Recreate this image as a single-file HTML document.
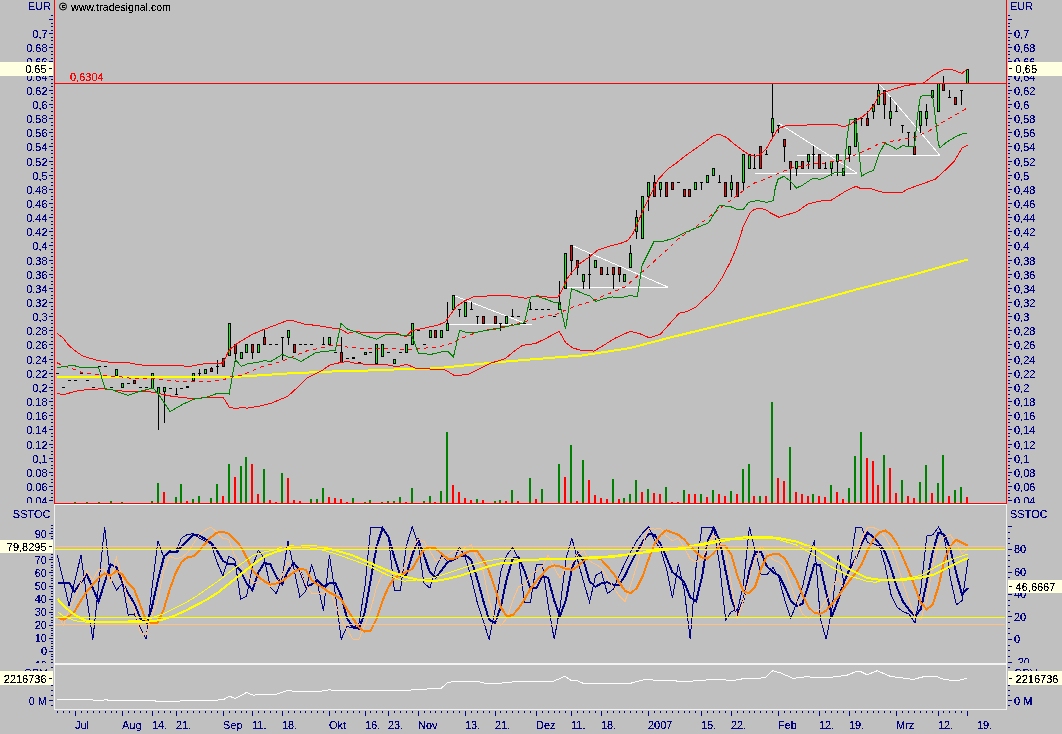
<!DOCTYPE html>
<html><head><meta charset="utf-8"><title>Chart</title>
<style>html,body{margin:0;padding:0;background:#C0C0C0;}body{width:1062px;height:734px;overflow:hidden;font-family:"Liberation Sans",sans-serif;}svg{display:block}</style>
</head><body>
<svg width="1062" height="734" viewBox="0 0 1062 734" shape-rendering="crispEdges" font-family="Liberation Sans, sans-serif">
<rect x="0" y="0" width="1062" height="734" fill="#C0C0C0"/>
<rect x="51" y="15" width="2" height="1" fill="#000080"/>
<rect x="1008" y="15" width="2" height="1" fill="#000080"/>
<rect x="49" y="19" width="4" height="1" fill="#000080"/>
<rect x="1008" y="19" width="4" height="1" fill="#000080"/>
<rect x="51" y="23" width="2" height="1" fill="#000080"/>
<rect x="1008" y="23" width="2" height="1" fill="#000080"/>
<rect x="51" y="26" width="2" height="1" fill="#000080"/>
<rect x="1008" y="26" width="2" height="1" fill="#000080"/>
<rect x="51" y="30" width="2" height="1" fill="#000080"/>
<rect x="1008" y="30" width="2" height="1" fill="#000080"/>
<rect x="49" y="33" width="4" height="1" fill="#000080"/>
<rect x="1008" y="33" width="4" height="1" fill="#000080"/>
<rect x="51" y="37" width="2" height="1" fill="#000080"/>
<rect x="1008" y="37" width="2" height="1" fill="#000080"/>
<rect x="51" y="40" width="2" height="1" fill="#000080"/>
<rect x="1008" y="40" width="2" height="1" fill="#000080"/>
<rect x="51" y="44" width="2" height="1" fill="#000080"/>
<rect x="1008" y="44" width="2" height="1" fill="#000080"/>
<rect x="49" y="47" width="4" height="1" fill="#000080"/>
<rect x="1008" y="47" width="4" height="1" fill="#000080"/>
<rect x="51" y="51" width="2" height="1" fill="#000080"/>
<rect x="1008" y="51" width="2" height="1" fill="#000080"/>
<rect x="51" y="54" width="2" height="1" fill="#000080"/>
<rect x="1008" y="54" width="2" height="1" fill="#000080"/>
<rect x="51" y="58" width="2" height="1" fill="#000080"/>
<rect x="1008" y="58" width="2" height="1" fill="#000080"/>
<rect x="49" y="61" width="4" height="1" fill="#000080"/>
<rect x="1008" y="61" width="4" height="1" fill="#000080"/>
<rect x="51" y="65" width="2" height="1" fill="#000080"/>
<rect x="1008" y="65" width="2" height="1" fill="#000080"/>
<rect x="51" y="69" width="2" height="1" fill="#000080"/>
<rect x="1008" y="69" width="2" height="1" fill="#000080"/>
<rect x="51" y="72" width="2" height="1" fill="#000080"/>
<rect x="1008" y="72" width="2" height="1" fill="#000080"/>
<rect x="49" y="76" width="4" height="1" fill="#000080"/>
<rect x="1008" y="76" width="4" height="1" fill="#000080"/>
<rect x="51" y="79" width="2" height="1" fill="#000080"/>
<rect x="1008" y="79" width="2" height="1" fill="#000080"/>
<rect x="51" y="83" width="2" height="1" fill="#000080"/>
<rect x="1008" y="83" width="2" height="1" fill="#000080"/>
<rect x="51" y="86" width="2" height="1" fill="#000080"/>
<rect x="1008" y="86" width="2" height="1" fill="#000080"/>
<rect x="49" y="90" width="4" height="1" fill="#000080"/>
<rect x="1008" y="90" width="4" height="1" fill="#000080"/>
<rect x="51" y="93" width="2" height="1" fill="#000080"/>
<rect x="1008" y="93" width="2" height="1" fill="#000080"/>
<rect x="51" y="97" width="2" height="1" fill="#000080"/>
<rect x="1008" y="97" width="2" height="1" fill="#000080"/>
<rect x="51" y="100" width="2" height="1" fill="#000080"/>
<rect x="1008" y="100" width="2" height="1" fill="#000080"/>
<rect x="49" y="104" width="4" height="1" fill="#000080"/>
<rect x="1008" y="104" width="4" height="1" fill="#000080"/>
<rect x="51" y="107" width="2" height="1" fill="#000080"/>
<rect x="1008" y="107" width="2" height="1" fill="#000080"/>
<rect x="51" y="111" width="2" height="1" fill="#000080"/>
<rect x="1008" y="111" width="2" height="1" fill="#000080"/>
<rect x="51" y="115" width="2" height="1" fill="#000080"/>
<rect x="1008" y="115" width="2" height="1" fill="#000080"/>
<rect x="49" y="118" width="4" height="1" fill="#000080"/>
<rect x="1008" y="118" width="4" height="1" fill="#000080"/>
<rect x="51" y="122" width="2" height="1" fill="#000080"/>
<rect x="1008" y="122" width="2" height="1" fill="#000080"/>
<rect x="51" y="125" width="2" height="1" fill="#000080"/>
<rect x="1008" y="125" width="2" height="1" fill="#000080"/>
<rect x="51" y="129" width="2" height="1" fill="#000080"/>
<rect x="1008" y="129" width="2" height="1" fill="#000080"/>
<rect x="49" y="132" width="4" height="1" fill="#000080"/>
<rect x="1008" y="132" width="4" height="1" fill="#000080"/>
<rect x="51" y="136" width="2" height="1" fill="#000080"/>
<rect x="1008" y="136" width="2" height="1" fill="#000080"/>
<rect x="51" y="139" width="2" height="1" fill="#000080"/>
<rect x="1008" y="139" width="2" height="1" fill="#000080"/>
<rect x="51" y="143" width="2" height="1" fill="#000080"/>
<rect x="1008" y="143" width="2" height="1" fill="#000080"/>
<rect x="49" y="146" width="4" height="1" fill="#000080"/>
<rect x="1008" y="146" width="4" height="1" fill="#000080"/>
<rect x="51" y="150" width="2" height="1" fill="#000080"/>
<rect x="1008" y="150" width="2" height="1" fill="#000080"/>
<rect x="51" y="153" width="2" height="1" fill="#000080"/>
<rect x="1008" y="153" width="2" height="1" fill="#000080"/>
<rect x="51" y="157" width="2" height="1" fill="#000080"/>
<rect x="1008" y="157" width="2" height="1" fill="#000080"/>
<rect x="49" y="161" width="4" height="1" fill="#000080"/>
<rect x="1008" y="161" width="4" height="1" fill="#000080"/>
<rect x="51" y="164" width="2" height="1" fill="#000080"/>
<rect x="1008" y="164" width="2" height="1" fill="#000080"/>
<rect x="51" y="168" width="2" height="1" fill="#000080"/>
<rect x="1008" y="168" width="2" height="1" fill="#000080"/>
<rect x="51" y="171" width="2" height="1" fill="#000080"/>
<rect x="1008" y="171" width="2" height="1" fill="#000080"/>
<rect x="49" y="175" width="4" height="1" fill="#000080"/>
<rect x="1008" y="175" width="4" height="1" fill="#000080"/>
<rect x="51" y="178" width="2" height="1" fill="#000080"/>
<rect x="1008" y="178" width="2" height="1" fill="#000080"/>
<rect x="51" y="182" width="2" height="1" fill="#000080"/>
<rect x="1008" y="182" width="2" height="1" fill="#000080"/>
<rect x="51" y="185" width="2" height="1" fill="#000080"/>
<rect x="1008" y="185" width="2" height="1" fill="#000080"/>
<rect x="49" y="189" width="4" height="1" fill="#000080"/>
<rect x="1008" y="189" width="4" height="1" fill="#000080"/>
<rect x="51" y="192" width="2" height="1" fill="#000080"/>
<rect x="1008" y="192" width="2" height="1" fill="#000080"/>
<rect x="51" y="196" width="2" height="1" fill="#000080"/>
<rect x="1008" y="196" width="2" height="1" fill="#000080"/>
<rect x="51" y="199" width="2" height="1" fill="#000080"/>
<rect x="1008" y="199" width="2" height="1" fill="#000080"/>
<rect x="49" y="203" width="4" height="1" fill="#000080"/>
<rect x="1008" y="203" width="4" height="1" fill="#000080"/>
<rect x="51" y="207" width="2" height="1" fill="#000080"/>
<rect x="1008" y="207" width="2" height="1" fill="#000080"/>
<rect x="51" y="210" width="2" height="1" fill="#000080"/>
<rect x="1008" y="210" width="2" height="1" fill="#000080"/>
<rect x="51" y="214" width="2" height="1" fill="#000080"/>
<rect x="1008" y="214" width="2" height="1" fill="#000080"/>
<rect x="49" y="217" width="4" height="1" fill="#000080"/>
<rect x="1008" y="217" width="4" height="1" fill="#000080"/>
<rect x="51" y="221" width="2" height="1" fill="#000080"/>
<rect x="1008" y="221" width="2" height="1" fill="#000080"/>
<rect x="51" y="224" width="2" height="1" fill="#000080"/>
<rect x="1008" y="224" width="2" height="1" fill="#000080"/>
<rect x="51" y="228" width="2" height="1" fill="#000080"/>
<rect x="1008" y="228" width="2" height="1" fill="#000080"/>
<rect x="49" y="231" width="4" height="1" fill="#000080"/>
<rect x="1008" y="231" width="4" height="1" fill="#000080"/>
<rect x="51" y="235" width="2" height="1" fill="#000080"/>
<rect x="1008" y="235" width="2" height="1" fill="#000080"/>
<rect x="51" y="238" width="2" height="1" fill="#000080"/>
<rect x="1008" y="238" width="2" height="1" fill="#000080"/>
<rect x="51" y="242" width="2" height="1" fill="#000080"/>
<rect x="1008" y="242" width="2" height="1" fill="#000080"/>
<rect x="49" y="245" width="4" height="1" fill="#000080"/>
<rect x="1008" y="245" width="4" height="1" fill="#000080"/>
<rect x="51" y="249" width="2" height="1" fill="#000080"/>
<rect x="1008" y="249" width="2" height="1" fill="#000080"/>
<rect x="51" y="252" width="2" height="1" fill="#000080"/>
<rect x="1008" y="252" width="2" height="1" fill="#000080"/>
<rect x="51" y="256" width="2" height="1" fill="#000080"/>
<rect x="1008" y="256" width="2" height="1" fill="#000080"/>
<rect x="49" y="260" width="4" height="1" fill="#000080"/>
<rect x="1008" y="260" width="4" height="1" fill="#000080"/>
<rect x="51" y="263" width="2" height="1" fill="#000080"/>
<rect x="1008" y="263" width="2" height="1" fill="#000080"/>
<rect x="51" y="267" width="2" height="1" fill="#000080"/>
<rect x="1008" y="267" width="2" height="1" fill="#000080"/>
<rect x="51" y="270" width="2" height="1" fill="#000080"/>
<rect x="1008" y="270" width="2" height="1" fill="#000080"/>
<rect x="49" y="274" width="4" height="1" fill="#000080"/>
<rect x="1008" y="274" width="4" height="1" fill="#000080"/>
<rect x="51" y="277" width="2" height="1" fill="#000080"/>
<rect x="1008" y="277" width="2" height="1" fill="#000080"/>
<rect x="51" y="281" width="2" height="1" fill="#000080"/>
<rect x="1008" y="281" width="2" height="1" fill="#000080"/>
<rect x="51" y="284" width="2" height="1" fill="#000080"/>
<rect x="1008" y="284" width="2" height="1" fill="#000080"/>
<rect x="49" y="288" width="4" height="1" fill="#000080"/>
<rect x="1008" y="288" width="4" height="1" fill="#000080"/>
<rect x="51" y="291" width="2" height="1" fill="#000080"/>
<rect x="1008" y="291" width="2" height="1" fill="#000080"/>
<rect x="51" y="295" width="2" height="1" fill="#000080"/>
<rect x="1008" y="295" width="2" height="1" fill="#000080"/>
<rect x="51" y="298" width="2" height="1" fill="#000080"/>
<rect x="1008" y="298" width="2" height="1" fill="#000080"/>
<rect x="49" y="302" width="4" height="1" fill="#000080"/>
<rect x="1008" y="302" width="4" height="1" fill="#000080"/>
<rect x="51" y="306" width="2" height="1" fill="#000080"/>
<rect x="1008" y="306" width="2" height="1" fill="#000080"/>
<rect x="51" y="309" width="2" height="1" fill="#000080"/>
<rect x="1008" y="309" width="2" height="1" fill="#000080"/>
<rect x="51" y="313" width="2" height="1" fill="#000080"/>
<rect x="1008" y="313" width="2" height="1" fill="#000080"/>
<rect x="49" y="316" width="4" height="1" fill="#000080"/>
<rect x="1008" y="316" width="4" height="1" fill="#000080"/>
<rect x="51" y="320" width="2" height="1" fill="#000080"/>
<rect x="1008" y="320" width="2" height="1" fill="#000080"/>
<rect x="51" y="323" width="2" height="1" fill="#000080"/>
<rect x="1008" y="323" width="2" height="1" fill="#000080"/>
<rect x="51" y="327" width="2" height="1" fill="#000080"/>
<rect x="1008" y="327" width="2" height="1" fill="#000080"/>
<rect x="49" y="330" width="4" height="1" fill="#000080"/>
<rect x="1008" y="330" width="4" height="1" fill="#000080"/>
<rect x="51" y="334" width="2" height="1" fill="#000080"/>
<rect x="1008" y="334" width="2" height="1" fill="#000080"/>
<rect x="51" y="337" width="2" height="1" fill="#000080"/>
<rect x="1008" y="337" width="2" height="1" fill="#000080"/>
<rect x="51" y="341" width="2" height="1" fill="#000080"/>
<rect x="1008" y="341" width="2" height="1" fill="#000080"/>
<rect x="49" y="344" width="4" height="1" fill="#000080"/>
<rect x="1008" y="344" width="4" height="1" fill="#000080"/>
<rect x="51" y="348" width="2" height="1" fill="#000080"/>
<rect x="1008" y="348" width="2" height="1" fill="#000080"/>
<rect x="51" y="352" width="2" height="1" fill="#000080"/>
<rect x="1008" y="352" width="2" height="1" fill="#000080"/>
<rect x="51" y="355" width="2" height="1" fill="#000080"/>
<rect x="1008" y="355" width="2" height="1" fill="#000080"/>
<rect x="49" y="359" width="4" height="1" fill="#000080"/>
<rect x="1008" y="359" width="4" height="1" fill="#000080"/>
<rect x="51" y="362" width="2" height="1" fill="#000080"/>
<rect x="1008" y="362" width="2" height="1" fill="#000080"/>
<rect x="51" y="366" width="2" height="1" fill="#000080"/>
<rect x="1008" y="366" width="2" height="1" fill="#000080"/>
<rect x="51" y="369" width="2" height="1" fill="#000080"/>
<rect x="1008" y="369" width="2" height="1" fill="#000080"/>
<rect x="49" y="373" width="4" height="1" fill="#000080"/>
<rect x="1008" y="373" width="4" height="1" fill="#000080"/>
<rect x="51" y="376" width="2" height="1" fill="#000080"/>
<rect x="1008" y="376" width="2" height="1" fill="#000080"/>
<rect x="51" y="380" width="2" height="1" fill="#000080"/>
<rect x="1008" y="380" width="2" height="1" fill="#000080"/>
<rect x="51" y="383" width="2" height="1" fill="#000080"/>
<rect x="1008" y="383" width="2" height="1" fill="#000080"/>
<rect x="49" y="387" width="4" height="1" fill="#000080"/>
<rect x="1008" y="387" width="4" height="1" fill="#000080"/>
<rect x="51" y="390" width="2" height="1" fill="#000080"/>
<rect x="1008" y="390" width="2" height="1" fill="#000080"/>
<rect x="51" y="394" width="2" height="1" fill="#000080"/>
<rect x="1008" y="394" width="2" height="1" fill="#000080"/>
<rect x="51" y="398" width="2" height="1" fill="#000080"/>
<rect x="1008" y="398" width="2" height="1" fill="#000080"/>
<rect x="49" y="401" width="4" height="1" fill="#000080"/>
<rect x="1008" y="401" width="4" height="1" fill="#000080"/>
<rect x="51" y="405" width="2" height="1" fill="#000080"/>
<rect x="1008" y="405" width="2" height="1" fill="#000080"/>
<rect x="51" y="408" width="2" height="1" fill="#000080"/>
<rect x="1008" y="408" width="2" height="1" fill="#000080"/>
<rect x="51" y="412" width="2" height="1" fill="#000080"/>
<rect x="1008" y="412" width="2" height="1" fill="#000080"/>
<rect x="49" y="415" width="4" height="1" fill="#000080"/>
<rect x="1008" y="415" width="4" height="1" fill="#000080"/>
<rect x="51" y="419" width="2" height="1" fill="#000080"/>
<rect x="1008" y="419" width="2" height="1" fill="#000080"/>
<rect x="51" y="422" width="2" height="1" fill="#000080"/>
<rect x="1008" y="422" width="2" height="1" fill="#000080"/>
<rect x="51" y="426" width="2" height="1" fill="#000080"/>
<rect x="1008" y="426" width="2" height="1" fill="#000080"/>
<rect x="49" y="429" width="4" height="1" fill="#000080"/>
<rect x="1008" y="429" width="4" height="1" fill="#000080"/>
<rect x="51" y="433" width="2" height="1" fill="#000080"/>
<rect x="1008" y="433" width="2" height="1" fill="#000080"/>
<rect x="51" y="436" width="2" height="1" fill="#000080"/>
<rect x="1008" y="436" width="2" height="1" fill="#000080"/>
<rect x="51" y="440" width="2" height="1" fill="#000080"/>
<rect x="1008" y="440" width="2" height="1" fill="#000080"/>
<rect x="49" y="444" width="4" height="1" fill="#000080"/>
<rect x="1008" y="444" width="4" height="1" fill="#000080"/>
<rect x="51" y="447" width="2" height="1" fill="#000080"/>
<rect x="1008" y="447" width="2" height="1" fill="#000080"/>
<rect x="51" y="451" width="2" height="1" fill="#000080"/>
<rect x="1008" y="451" width="2" height="1" fill="#000080"/>
<rect x="51" y="454" width="2" height="1" fill="#000080"/>
<rect x="1008" y="454" width="2" height="1" fill="#000080"/>
<rect x="49" y="458" width="4" height="1" fill="#000080"/>
<rect x="1008" y="458" width="4" height="1" fill="#000080"/>
<rect x="51" y="461" width="2" height="1" fill="#000080"/>
<rect x="1008" y="461" width="2" height="1" fill="#000080"/>
<rect x="51" y="465" width="2" height="1" fill="#000080"/>
<rect x="1008" y="465" width="2" height="1" fill="#000080"/>
<rect x="51" y="468" width="2" height="1" fill="#000080"/>
<rect x="1008" y="468" width="2" height="1" fill="#000080"/>
<rect x="49" y="472" width="4" height="1" fill="#000080"/>
<rect x="1008" y="472" width="4" height="1" fill="#000080"/>
<rect x="51" y="475" width="2" height="1" fill="#000080"/>
<rect x="1008" y="475" width="2" height="1" fill="#000080"/>
<rect x="51" y="479" width="2" height="1" fill="#000080"/>
<rect x="1008" y="479" width="2" height="1" fill="#000080"/>
<rect x="51" y="482" width="2" height="1" fill="#000080"/>
<rect x="1008" y="482" width="2" height="1" fill="#000080"/>
<rect x="49" y="486" width="4" height="1" fill="#000080"/>
<rect x="1008" y="486" width="4" height="1" fill="#000080"/>
<rect x="51" y="490" width="2" height="1" fill="#000080"/>
<rect x="1008" y="490" width="2" height="1" fill="#000080"/>
<rect x="51" y="493" width="2" height="1" fill="#000080"/>
<rect x="1008" y="493" width="2" height="1" fill="#000080"/>
<rect x="51" y="497" width="2" height="1" fill="#000080"/>
<rect x="1008" y="497" width="2" height="1" fill="#000080"/>
<rect x="49" y="500" width="4" height="1" fill="#000080"/>
<rect x="1008" y="500" width="4" height="1" fill="#000080"/>
<g clip-path="url(#cpMain)">
<text x="47.6" y="37.5" fill="#000080" font-size="11" text-anchor="end" filter="url(#bin)" >0,7</text>
<text x="1014" y="37.5" fill="#000080" font-size="11" text-anchor="start" filter="url(#bin)" >0,7</text>
<text x="47.6" y="51.5" fill="#000080" font-size="11" text-anchor="end" filter="url(#bin)" >0,68</text>
<text x="1014" y="51.5" fill="#000080" font-size="11" text-anchor="start" filter="url(#bin)" >0,68</text>
<text x="47.6" y="65.5" fill="#000080" font-size="11" text-anchor="end" filter="url(#bin)" >0,66</text>
<text x="1014" y="65.5" fill="#000080" font-size="11" text-anchor="start" filter="url(#bin)" >0,66</text>
<text x="47.6" y="80.5" fill="#000080" font-size="11" text-anchor="end" filter="url(#bin)" >0,64</text>
<text x="1014" y="80.5" fill="#000080" font-size="11" text-anchor="start" filter="url(#bin)" >0,64</text>
<text x="47.6" y="94.5" fill="#000080" font-size="11" text-anchor="end" filter="url(#bin)" >0,62</text>
<text x="1014" y="94.5" fill="#000080" font-size="11" text-anchor="start" filter="url(#bin)" >0,62</text>
<text x="47.6" y="108.5" fill="#000080" font-size="11" text-anchor="end" filter="url(#bin)" >0,6</text>
<text x="1014" y="108.5" fill="#000080" font-size="11" text-anchor="start" filter="url(#bin)" >0,6</text>
<text x="47.6" y="122.5" fill="#000080" font-size="11" text-anchor="end" filter="url(#bin)" >0,58</text>
<text x="1014" y="122.5" fill="#000080" font-size="11" text-anchor="start" filter="url(#bin)" >0,58</text>
<text x="47.6" y="136.5" fill="#000080" font-size="11" text-anchor="end" filter="url(#bin)" >0,56</text>
<text x="1014" y="136.5" fill="#000080" font-size="11" text-anchor="start" filter="url(#bin)" >0,56</text>
<text x="47.6" y="150.5" fill="#000080" font-size="11" text-anchor="end" filter="url(#bin)" >0,54</text>
<text x="1014" y="150.5" fill="#000080" font-size="11" text-anchor="start" filter="url(#bin)" >0,54</text>
<text x="47.6" y="165.5" fill="#000080" font-size="11" text-anchor="end" filter="url(#bin)" >0,52</text>
<text x="1014" y="165.5" fill="#000080" font-size="11" text-anchor="start" filter="url(#bin)" >0,52</text>
<text x="47.6" y="179.5" fill="#000080" font-size="11" text-anchor="end" filter="url(#bin)" >0,5</text>
<text x="1014" y="179.5" fill="#000080" font-size="11" text-anchor="start" filter="url(#bin)" >0,5</text>
<text x="47.6" y="193.5" fill="#000080" font-size="11" text-anchor="end" filter="url(#bin)" >0,48</text>
<text x="1014" y="193.5" fill="#000080" font-size="11" text-anchor="start" filter="url(#bin)" >0,48</text>
<text x="47.6" y="207.5" fill="#000080" font-size="11" text-anchor="end" filter="url(#bin)" >0,46</text>
<text x="1014" y="207.5" fill="#000080" font-size="11" text-anchor="start" filter="url(#bin)" >0,46</text>
<text x="47.6" y="221.5" fill="#000080" font-size="11" text-anchor="end" filter="url(#bin)" >0,44</text>
<text x="1014" y="221.5" fill="#000080" font-size="11" text-anchor="start" filter="url(#bin)" >0,44</text>
<text x="47.6" y="235.5" fill="#000080" font-size="11" text-anchor="end" filter="url(#bin)" >0,42</text>
<text x="1014" y="235.5" fill="#000080" font-size="11" text-anchor="start" filter="url(#bin)" >0,42</text>
<text x="47.6" y="249.5" fill="#000080" font-size="11" text-anchor="end" filter="url(#bin)" >0,4</text>
<text x="1014" y="249.5" fill="#000080" font-size="11" text-anchor="start" filter="url(#bin)" >0,4</text>
<text x="47.6" y="264.5" fill="#000080" font-size="11" text-anchor="end" filter="url(#bin)" >0,38</text>
<text x="1014" y="264.5" fill="#000080" font-size="11" text-anchor="start" filter="url(#bin)" >0,38</text>
<text x="47.6" y="278.5" fill="#000080" font-size="11" text-anchor="end" filter="url(#bin)" >0,36</text>
<text x="1014" y="278.5" fill="#000080" font-size="11" text-anchor="start" filter="url(#bin)" >0,36</text>
<text x="47.6" y="292.5" fill="#000080" font-size="11" text-anchor="end" filter="url(#bin)" >0,34</text>
<text x="1014" y="292.5" fill="#000080" font-size="11" text-anchor="start" filter="url(#bin)" >0,34</text>
<text x="47.6" y="306.5" fill="#000080" font-size="11" text-anchor="end" filter="url(#bin)" >0,32</text>
<text x="1014" y="306.5" fill="#000080" font-size="11" text-anchor="start" filter="url(#bin)" >0,32</text>
<text x="47.6" y="320.5" fill="#000080" font-size="11" text-anchor="end" filter="url(#bin)" >0,3</text>
<text x="1014" y="320.5" fill="#000080" font-size="11" text-anchor="start" filter="url(#bin)" >0,3</text>
<text x="47.6" y="334.5" fill="#000080" font-size="11" text-anchor="end" filter="url(#bin)" >0,28</text>
<text x="1014" y="334.5" fill="#000080" font-size="11" text-anchor="start" filter="url(#bin)" >0,28</text>
<text x="47.6" y="348.5" fill="#000080" font-size="11" text-anchor="end" filter="url(#bin)" >0,26</text>
<text x="1014" y="348.5" fill="#000080" font-size="11" text-anchor="start" filter="url(#bin)" >0,26</text>
<text x="47.6" y="363.5" fill="#000080" font-size="11" text-anchor="end" filter="url(#bin)" >0,24</text>
<text x="1014" y="363.5" fill="#000080" font-size="11" text-anchor="start" filter="url(#bin)" >0,24</text>
<text x="47.6" y="377.5" fill="#000080" font-size="11" text-anchor="end" filter="url(#bin)" >0,22</text>
<text x="1014" y="377.5" fill="#000080" font-size="11" text-anchor="start" filter="url(#bin)" >0,22</text>
<text x="47.6" y="391.5" fill="#000080" font-size="11" text-anchor="end" filter="url(#bin)" >0,2</text>
<text x="1014" y="391.5" fill="#000080" font-size="11" text-anchor="start" filter="url(#bin)" >0,2</text>
<text x="47.6" y="405.5" fill="#000080" font-size="11" text-anchor="end" filter="url(#bin)" >0,18</text>
<text x="1014" y="405.5" fill="#000080" font-size="11" text-anchor="start" filter="url(#bin)" >0,18</text>
<text x="47.6" y="419.5" fill="#000080" font-size="11" text-anchor="end" filter="url(#bin)" >0,16</text>
<text x="1014" y="419.5" fill="#000080" font-size="11" text-anchor="start" filter="url(#bin)" >0,16</text>
<text x="47.6" y="433.5" fill="#000080" font-size="11" text-anchor="end" filter="url(#bin)" >0,14</text>
<text x="1014" y="433.5" fill="#000080" font-size="11" text-anchor="start" filter="url(#bin)" >0,14</text>
<text x="47.6" y="448.5" fill="#000080" font-size="11" text-anchor="end" filter="url(#bin)" >0,12</text>
<text x="1014" y="448.5" fill="#000080" font-size="11" text-anchor="start" filter="url(#bin)" >0,12</text>
<text x="47.6" y="462.5" fill="#000080" font-size="11" text-anchor="end" filter="url(#bin)" >0,1</text>
<text x="1014" y="462.5" fill="#000080" font-size="11" text-anchor="start" filter="url(#bin)" >0,1</text>
<text x="47.6" y="476.5" fill="#000080" font-size="11" text-anchor="end" filter="url(#bin)" >0,08</text>
<text x="1014" y="476.5" fill="#000080" font-size="11" text-anchor="start" filter="url(#bin)" >0,08</text>
<text x="47.6" y="490.5" fill="#000080" font-size="11" text-anchor="end" filter="url(#bin)" >0,06</text>
<text x="1014" y="490.5" fill="#000080" font-size="11" text-anchor="start" filter="url(#bin)" >0,06</text>
<text x="47.6" y="504.5" fill="#000080" font-size="11" text-anchor="end" filter="url(#bin)" >0,04</text>
<text x="1014" y="504.5" fill="#000080" font-size="11" text-anchor="start" filter="url(#bin)" >0,04</text>
</g>
<text x="51" y="10" fill="#000080" font-size="11" text-anchor="end" filter="url(#bin)" >EUR</text>
<text x="1010" y="10" fill="#000080" font-size="11" text-anchor="start" filter="url(#bin)" >EUR</text>
<rect x="54" y="0" width="1" height="504" fill="#FF0000"/>
<rect x="1006" y="0" width="1" height="504" fill="#FF0000"/>
<rect x="54" y="503" width="953" height="1" fill="#FF0000"/>
<circle cx="63" cy="6.5" r="3.5" fill="none" stroke="#000" stroke-width="1" shape-rendering="auto"/>
<rect x="62" y="5" width="3" height="1" fill="#000"/>
<rect x="62" y="6" width="1" height="1" fill="#000"/>
<rect x="62" y="7" width="3" height="1" fill="#000"/>
<text x="71" y="11" fill="#000000" font-size="11" text-anchor="start" filter="url(#bin)" textLength="100" lengthAdjust="spacingAndGlyphs">www.tradesignal.com</text>
<defs><filter id="bin" x="-5%" y="-20%" width="110%" height="140%"><feComponentTransfer><feFuncA type="discrete" tableValues="0 0 1 1 1"/></feComponentTransfer></filter><clipPath id="cpMain"><rect x="0" y="0" width="1062" height="503"/></clipPath><clipPath id="cpS"><rect x="55" y="505" width="951" height="158"/></clipPath><clipPath id="cpSL"><rect x="0" y="505" width="1062" height="158"/></clipPath><clipPath id="cpO"><rect x="0" y="665" width="1062" height="44"/></clipPath></defs>
<rect x="74" y="502" width="2" height="1" fill="#008000"/>
<rect x="86" y="502" width="2" height="1" fill="#008000"/>
<rect x="98" y="502" width="2" height="1" fill="#008000"/>
<rect x="110" y="501" width="2" height="2" fill="#008000"/>
<rect x="121" y="502" width="2" height="1" fill="#008000"/>
<rect x="151" y="501" width="2" height="2" fill="#008000"/>
<rect x="157" y="483" width="2" height="20" fill="#008000"/>
<rect x="163" y="492" width="2" height="11" fill="#FF0000"/>
<rect x="175" y="497" width="2" height="6" fill="#008000"/>
<rect x="180" y="484" width="2" height="19" fill="#008000"/>
<rect x="186" y="501" width="2" height="2" fill="#FF0000"/>
<rect x="192" y="499" width="2" height="4" fill="#008000"/>
<rect x="198" y="496" width="2" height="7" fill="#008000"/>
<rect x="210" y="498" width="2" height="5" fill="#008000"/>
<rect x="216" y="484" width="2" height="19" fill="#008000"/>
<rect x="222" y="496" width="2" height="7" fill="#FF0000"/>
<rect x="228" y="464" width="2" height="39" fill="#008000"/>
<rect x="234" y="477" width="2" height="26" fill="#FF0000"/>
<rect x="240" y="466" width="2" height="37" fill="#008000"/>
<rect x="245" y="457" width="2" height="46" fill="#008000"/>
<rect x="251" y="464" width="2" height="39" fill="#FF0000"/>
<rect x="257" y="494" width="2" height="9" fill="#FF0000"/>
<rect x="263" y="469" width="2" height="34" fill="#008000"/>
<rect x="269" y="500" width="2" height="3" fill="#FF0000"/>
<rect x="275" y="502" width="2" height="1" fill="#FF0000"/>
<rect x="281" y="473" width="2" height="30" fill="#008000"/>
<rect x="287" y="478" width="2" height="25" fill="#FF0000"/>
<rect x="293" y="500" width="2" height="3" fill="#FF0000"/>
<rect x="299" y="501" width="2" height="2" fill="#FF0000"/>
<rect x="310" y="499" width="2" height="4" fill="#008000"/>
<rect x="316" y="499" width="2" height="4" fill="#008000"/>
<rect x="322" y="488" width="2" height="15" fill="#008000"/>
<rect x="328" y="497" width="2" height="6" fill="#FF0000"/>
<rect x="334" y="498" width="2" height="5" fill="#FF0000"/>
<rect x="340" y="499" width="2" height="4" fill="#FF0000"/>
<rect x="346" y="502" width="2" height="1" fill="#FF0000"/>
<rect x="352" y="498" width="2" height="5" fill="#008000"/>
<rect x="364" y="502" width="2" height="1" fill="#008000"/>
<rect x="369" y="500" width="2" height="3" fill="#008000"/>
<rect x="381" y="502" width="2" height="1" fill="#008000"/>
<rect x="387" y="501" width="2" height="2" fill="#008000"/>
<rect x="393" y="501" width="2" height="2" fill="#008000"/>
<rect x="399" y="497" width="2" height="6" fill="#008000"/>
<rect x="405" y="502" width="2" height="1" fill="#FF0000"/>
<rect x="411" y="488" width="2" height="15" fill="#008000"/>
<rect x="423" y="501" width="2" height="2" fill="#008000"/>
<rect x="429" y="496" width="2" height="7" fill="#008000"/>
<rect x="434" y="502" width="2" height="1" fill="#FF0000"/>
<rect x="440" y="491" width="2" height="12" fill="#008000"/>
<rect x="446" y="432" width="2" height="71" fill="#008000"/>
<rect x="452" y="485" width="2" height="18" fill="#FF0000"/>
<rect x="458" y="492" width="2" height="11" fill="#FF0000"/>
<rect x="464" y="498" width="2" height="5" fill="#FF0000"/>
<rect x="470" y="500" width="2" height="3" fill="#FF0000"/>
<rect x="476" y="499" width="2" height="4" fill="#008000"/>
<rect x="482" y="500" width="2" height="3" fill="#FF0000"/>
<rect x="494" y="501" width="2" height="2" fill="#008000"/>
<rect x="499" y="500" width="2" height="3" fill="#008000"/>
<rect x="505" y="501" width="2" height="2" fill="#FF0000"/>
<rect x="511" y="490" width="2" height="13" fill="#008000"/>
<rect x="517" y="501" width="2" height="2" fill="#FF0000"/>
<rect x="529" y="478" width="2" height="25" fill="#008000"/>
<rect x="535" y="499" width="2" height="4" fill="#FF0000"/>
<rect x="541" y="489" width="2" height="14" fill="#008000"/>
<rect x="558" y="464" width="2" height="39" fill="#008000"/>
<rect x="564" y="477" width="2" height="26" fill="#FF0000"/>
<rect x="570" y="445" width="2" height="58" fill="#008000"/>
<rect x="576" y="501" width="2" height="2" fill="#FF0000"/>
<rect x="582" y="460" width="2" height="43" fill="#008000"/>
<rect x="588" y="480" width="2" height="23" fill="#FF0000"/>
<rect x="594" y="495" width="2" height="8" fill="#FF0000"/>
<rect x="600" y="498" width="2" height="5" fill="#FF0000"/>
<rect x="606" y="499" width="2" height="4" fill="#FF0000"/>
<rect x="612" y="479" width="2" height="24" fill="#008000"/>
<rect x="618" y="499" width="2" height="4" fill="#FF0000"/>
<rect x="623" y="498" width="2" height="5" fill="#008000"/>
<rect x="629" y="494" width="2" height="9" fill="#008000"/>
<rect x="635" y="480" width="2" height="23" fill="#008000"/>
<rect x="641" y="492" width="2" height="11" fill="#FF0000"/>
<rect x="647" y="489" width="2" height="14" fill="#008000"/>
<rect x="653" y="493" width="2" height="10" fill="#FF0000"/>
<rect x="659" y="494" width="2" height="9" fill="#FF0000"/>
<rect x="665" y="487" width="2" height="16" fill="#008000"/>
<rect x="671" y="502" width="2" height="1" fill="#FF0000"/>
<rect x="677" y="502" width="2" height="1" fill="#FF0000"/>
<rect x="683" y="490" width="2" height="13" fill="#008000"/>
<rect x="688" y="494" width="2" height="9" fill="#FF0000"/>
<rect x="694" y="494" width="2" height="9" fill="#FF0000"/>
<rect x="700" y="494" width="2" height="9" fill="#008000"/>
<rect x="706" y="497" width="2" height="6" fill="#FF0000"/>
<rect x="712" y="490" width="2" height="13" fill="#008000"/>
<rect x="718" y="494" width="2" height="9" fill="#FF0000"/>
<rect x="724" y="496" width="2" height="7" fill="#FF0000"/>
<rect x="730" y="491" width="2" height="12" fill="#008000"/>
<rect x="736" y="494" width="2" height="9" fill="#FF0000"/>
<rect x="742" y="469" width="2" height="34" fill="#008000"/>
<rect x="748" y="464" width="2" height="39" fill="#008000"/>
<rect x="753" y="496" width="2" height="7" fill="#FF0000"/>
<rect x="759" y="496" width="2" height="7" fill="#008000"/>
<rect x="765" y="496" width="2" height="7" fill="#FF0000"/>
<rect x="771" y="402" width="2" height="101" fill="#008000"/>
<rect x="777" y="478" width="2" height="25" fill="#FF0000"/>
<rect x="783" y="481" width="2" height="22" fill="#FF0000"/>
<rect x="789" y="447" width="2" height="56" fill="#008000"/>
<rect x="795" y="492" width="2" height="11" fill="#FF0000"/>
<rect x="801" y="494" width="2" height="9" fill="#FF0000"/>
<rect x="807" y="496" width="2" height="7" fill="#FF0000"/>
<rect x="812" y="494" width="2" height="9" fill="#008000"/>
<rect x="818" y="496" width="2" height="7" fill="#FF0000"/>
<rect x="824" y="497" width="2" height="6" fill="#FF0000"/>
<rect x="830" y="485" width="2" height="18" fill="#008000"/>
<rect x="836" y="492" width="2" height="11" fill="#FF0000"/>
<rect x="842" y="499" width="2" height="4" fill="#FF0000"/>
<rect x="848" y="488" width="2" height="15" fill="#008000"/>
<rect x="854" y="456" width="2" height="47" fill="#008000"/>
<rect x="860" y="432" width="2" height="71" fill="#008000"/>
<rect x="866" y="458" width="2" height="45" fill="#FF0000"/>
<rect x="872" y="461" width="2" height="42" fill="#FF0000"/>
<rect x="877" y="485" width="2" height="18" fill="#FF0000"/>
<rect x="883" y="455" width="2" height="48" fill="#008000"/>
<rect x="889" y="468" width="2" height="35" fill="#FF0000"/>
<rect x="895" y="493" width="2" height="10" fill="#FF0000"/>
<rect x="901" y="480" width="2" height="23" fill="#008000"/>
<rect x="907" y="496" width="2" height="7" fill="#FF0000"/>
<rect x="913" y="498" width="2" height="5" fill="#FF0000"/>
<rect x="919" y="482" width="2" height="21" fill="#008000"/>
<rect x="925" y="465" width="2" height="38" fill="#008000"/>
<rect x="931" y="493" width="2" height="10" fill="#FF0000"/>
<rect x="937" y="483" width="2" height="20" fill="#008000"/>
<rect x="942" y="455" width="2" height="48" fill="#008000"/>
<rect x="948" y="496" width="2" height="7" fill="#FF0000"/>
<rect x="954" y="490" width="2" height="13" fill="#008000"/>
<rect x="960" y="487" width="2" height="16" fill="#008000"/>
<rect x="966" y="497" width="2" height="6" fill="#FF0000"/>
<polyline points="453.5,295.4 525.3,323.4" fill="none" stroke="#FFFFFF" stroke-width="1" />
<polyline points="447.5,324.5 532.0,324.5" fill="none" stroke="#FFFFFF" stroke-width="1" />
<polyline points="571.5,245.3 667.6,286.9" fill="none" stroke="#FFFFFF" stroke-width="1" />
<polyline points="565.6,287.5 667.6,287.5" fill="none" stroke="#FFFFFF" stroke-width="1" />
<polyline points="779.1,123.5 856.7,172.9" fill="none" stroke="#FFFFFF" stroke-width="1" />
<polyline points="755.3,173.5 856.7,173.5" fill="none" stroke="#FFFFFF" stroke-width="1" />
<polyline points="879.2,83.8 940.1,155.6" fill="none" stroke="#FFFFFF" stroke-width="1" />
<polyline points="797.2,155.5 940.1,155.5" fill="none" stroke="#FFFFFF" stroke-width="1" />
<rect x="56" y="373" width="3" height="1" fill="#000"/>
<rect x="62" y="387" width="3" height="1" fill="#000"/>
<rect x="68" y="380" width="3" height="1" fill="#000"/>
<rect x="74" y="380" width="3" height="1" fill="#000"/>
<rect x="80" y="373" width="3" height="1" fill="#000"/>
<rect x="86" y="380" width="3" height="1" fill="#000"/>
<rect x="92" y="387" width="3" height="1" fill="#000"/>
<rect x="98" y="366" width="3" height="1" fill="#000"/>
<rect x="104" y="366" width="3" height="1" fill="#000"/>
<rect x="110" y="387" width="3" height="1" fill="#000"/>
<rect x="115" y="369" width="3" height="7" fill="#000"/>
<rect x="116" y="370" width="1" height="5" fill="#00FF00"/>
<rect x="121" y="383" width="3" height="5" fill="#000"/>
<rect x="122" y="384" width="1" height="3" fill="#00FF00"/>
<rect x="127" y="383" width="3" height="1" fill="#000"/>
<rect x="133" y="380" width="3" height="4" fill="#000"/>
<rect x="134" y="381" width="1" height="2" fill="#FF0000"/>
<rect x="139" y="387" width="3" height="1" fill="#000"/>
<rect x="145" y="387" width="3" height="1" fill="#000"/>
<rect x="151" y="373" width="3" height="16" fill="#000"/>
<rect x="152" y="374" width="1" height="14" fill="#00FF00"/>
<rect x="158" y="393" width="1" height="37" fill="#000"/>
<rect x="157" y="387" width="3" height="7" fill="#000"/>
<rect x="158" y="388" width="1" height="5" fill="#00FF00"/>
<rect x="164" y="391" width="1" height="32" fill="#000"/>
<rect x="163" y="387" width="3" height="5" fill="#000"/>
<rect x="164" y="388" width="1" height="3" fill="#00FF00"/>
<rect x="169" y="388" width="3" height="1" fill="#000"/>
<rect x="176" y="388" width="1" height="7" fill="#000"/>
<rect x="175" y="394" width="3" height="1" fill="#000"/>
<rect x="180" y="388" width="3" height="1" fill="#000"/>
<rect x="186" y="386" width="3" height="2" fill="#000"/>
<rect x="192" y="373" width="3" height="8" fill="#000"/>
<rect x="193" y="374" width="1" height="6" fill="#00FF00"/>
<rect x="199" y="369" width="1" height="8" fill="#000"/>
<rect x="198" y="373" width="3" height="1" fill="#000"/>
<rect x="204" y="369" width="3" height="5" fill="#000"/>
<rect x="205" y="370" width="1" height="3" fill="#00FF00"/>
<rect x="211" y="367" width="1" height="1" fill="#000"/>
<rect x="210" y="368" width="3" height="4" fill="#000"/>
<rect x="211" y="369" width="1" height="2" fill="#FF0000"/>
<rect x="217" y="360" width="1" height="14" fill="#000"/>
<rect x="216" y="366" width="3" height="1" fill="#000"/>
<rect x="222" y="358" width="3" height="9" fill="#000"/>
<rect x="223" y="359" width="1" height="7" fill="#FF0000"/>
<rect x="228" y="323" width="3" height="33" fill="#000"/>
<rect x="229" y="324" width="1" height="31" fill="#00FF00"/>
<rect x="235" y="353" width="1" height="9" fill="#000"/>
<rect x="234" y="344" width="3" height="10" fill="#000"/>
<rect x="235" y="345" width="1" height="8" fill="#FF0000"/>
<rect x="240" y="352" width="3" height="7" fill="#000"/>
<rect x="241" y="353" width="1" height="5" fill="#00FF00"/>
<rect x="245" y="344" width="3" height="9" fill="#000"/>
<rect x="246" y="345" width="1" height="7" fill="#00FF00"/>
<rect x="252" y="352" width="1" height="7" fill="#000"/>
<rect x="251" y="344" width="3" height="9" fill="#000"/>
<rect x="252" y="345" width="1" height="7" fill="#FF0000"/>
<rect x="257" y="344" width="3" height="9" fill="#000"/>
<rect x="258" y="345" width="1" height="7" fill="#00FF00"/>
<rect x="264" y="329" width="1" height="8" fill="#000"/>
<rect x="263" y="337" width="3" height="8" fill="#000"/>
<rect x="264" y="338" width="1" height="6" fill="#FF0000"/>
<rect x="269" y="344" width="3" height="1" fill="#000"/>
<rect x="275" y="344" width="3" height="1" fill="#000"/>
<rect x="282" y="337" width="1" height="23" fill="#000"/>
<rect x="281" y="337" width="3" height="1" fill="#000"/>
<rect x="288" y="337" width="1" height="8" fill="#000"/>
<rect x="287" y="330" width="3" height="8" fill="#000"/>
<rect x="288" y="331" width="1" height="6" fill="#00FF00"/>
<rect x="293" y="344" width="3" height="9" fill="#000"/>
<rect x="294" y="345" width="1" height="7" fill="#FF0000"/>
<rect x="299" y="344" width="3" height="1" fill="#000"/>
<rect x="304" y="344" width="3" height="1" fill="#000"/>
<rect x="310" y="344" width="3" height="1" fill="#000"/>
<rect x="323" y="337" width="1" height="8" fill="#000"/>
<rect x="322" y="344" width="3" height="1" fill="#000"/>
<rect x="328" y="337" width="3" height="8" fill="#000"/>
<rect x="329" y="338" width="1" height="6" fill="#00FF00"/>
<rect x="334" y="352" width="3" height="1" fill="#000"/>
<rect x="341" y="337" width="1" height="15" fill="#000"/>
<rect x="340" y="352" width="3" height="11" fill="#000"/>
<rect x="341" y="353" width="1" height="9" fill="#FF0000"/>
<rect x="346" y="358" width="3" height="1" fill="#000"/>
<rect x="352" y="357" width="3" height="2" fill="#000"/>
<rect x="358" y="362" width="3" height="1" fill="#000"/>
<rect x="364" y="352" width="3" height="3" fill="#000"/>
<rect x="365" y="353" width="1" height="1" fill="#00FF00"/>
<rect x="369" y="352" width="3" height="1" fill="#000"/>
<rect x="375" y="344" width="3" height="20" fill="#000"/>
<rect x="376" y="345" width="1" height="18" fill="#00FF00"/>
<rect x="381" y="344" width="3" height="13" fill="#000"/>
<rect x="382" y="345" width="1" height="11" fill="#00FF00"/>
<rect x="387" y="352" width="3" height="1" fill="#000"/>
<rect x="393" y="359" width="3" height="5" fill="#000"/>
<rect x="394" y="360" width="1" height="3" fill="#00FF00"/>
<rect x="399" y="352" width="3" height="1" fill="#000"/>
<rect x="405" y="344" width="3" height="9" fill="#000"/>
<rect x="406" y="345" width="1" height="7" fill="#00FF00"/>
<rect x="411" y="323" width="3" height="22" fill="#000"/>
<rect x="412" y="324" width="1" height="20" fill="#00FF00"/>
<rect x="417" y="329" width="3" height="2" fill="#000"/>
<rect x="423" y="344" width="3" height="1" fill="#000"/>
<rect x="429" y="330" width="3" height="8" fill="#000"/>
<rect x="430" y="331" width="1" height="6" fill="#00FF00"/>
<rect x="434" y="330" width="3" height="8" fill="#000"/>
<rect x="435" y="331" width="1" height="6" fill="#FF0000"/>
<rect x="440" y="330" width="3" height="8" fill="#000"/>
<rect x="441" y="331" width="1" height="6" fill="#00FF00"/>
<rect x="447" y="302" width="1" height="21" fill="#000"/>
<rect x="446" y="323" width="3" height="8" fill="#000"/>
<rect x="447" y="324" width="1" height="6" fill="#00FF00"/>
<rect x="452" y="295" width="3" height="15" fill="#000"/>
<rect x="453" y="296" width="1" height="13" fill="#00FF00"/>
<rect x="459" y="309" width="1" height="8" fill="#000"/>
<rect x="458" y="309" width="3" height="1" fill="#000"/>
<rect x="464" y="302" width="3" height="15" fill="#000"/>
<rect x="465" y="303" width="1" height="13" fill="#00FF00"/>
<rect x="471" y="302" width="1" height="8" fill="#000"/>
<rect x="470" y="309" width="3" height="1" fill="#000"/>
<rect x="477" y="316" width="1" height="8" fill="#000"/>
<rect x="476" y="316" width="3" height="1" fill="#000"/>
<rect x="482" y="316" width="3" height="8" fill="#000"/>
<rect x="483" y="317" width="1" height="6" fill="#FF0000"/>
<rect x="494" y="316" width="3" height="8" fill="#000"/>
<rect x="495" y="317" width="1" height="6" fill="#FF0000"/>
<rect x="500" y="323" width="1" height="8" fill="#000"/>
<rect x="499" y="323" width="3" height="1" fill="#000"/>
<rect x="505" y="316" width="3" height="8" fill="#000"/>
<rect x="506" y="317" width="1" height="6" fill="#00FF00"/>
<rect x="512" y="309" width="1" height="8" fill="#000"/>
<rect x="511" y="316" width="3" height="1" fill="#000"/>
<rect x="517" y="316" width="3" height="1" fill="#000"/>
<rect x="523" y="323" width="3" height="1" fill="#000"/>
<rect x="530" y="302" width="1" height="8" fill="#000"/>
<rect x="529" y="309" width="3" height="1" fill="#000"/>
<rect x="535" y="309" width="3" height="1" fill="#000"/>
<rect x="541" y="309" width="3" height="1" fill="#000"/>
<rect x="547" y="309" width="3" height="1" fill="#000"/>
<rect x="553" y="316" width="3" height="1" fill="#000"/>
<rect x="559" y="281" width="1" height="21" fill="#000"/>
<rect x="558" y="302" width="3" height="8" fill="#000"/>
<rect x="559" y="303" width="1" height="6" fill="#00FF00"/>
<rect x="564" y="253" width="3" height="36" fill="#000"/>
<rect x="565" y="254" width="1" height="34" fill="#00FF00"/>
<rect x="571" y="260" width="1" height="15" fill="#000"/>
<rect x="570" y="245" width="3" height="16" fill="#000"/>
<rect x="571" y="246" width="1" height="14" fill="#FF0000"/>
<rect x="577" y="267" width="1" height="8" fill="#000"/>
<rect x="576" y="260" width="3" height="8" fill="#000"/>
<rect x="577" y="261" width="1" height="6" fill="#FF0000"/>
<rect x="583" y="281" width="1" height="8" fill="#000"/>
<rect x="582" y="274" width="3" height="8" fill="#000"/>
<rect x="583" y="275" width="1" height="6" fill="#00FF00"/>
<rect x="589" y="254" width="1" height="35" fill="#000"/>
<rect x="588" y="274" width="3" height="1" fill="#000"/>
<rect x="594" y="260" width="3" height="8" fill="#000"/>
<rect x="595" y="261" width="1" height="6" fill="#00FF00"/>
<rect x="600" y="267" width="3" height="8" fill="#000"/>
<rect x="601" y="268" width="1" height="6" fill="#FF0000"/>
<rect x="607" y="267" width="1" height="8" fill="#000"/>
<rect x="606" y="274" width="3" height="1" fill="#000"/>
<rect x="613" y="274" width="1" height="15" fill="#000"/>
<rect x="612" y="267" width="3" height="8" fill="#000"/>
<rect x="613" y="268" width="1" height="6" fill="#FF0000"/>
<rect x="619" y="274" width="1" height="8" fill="#000"/>
<rect x="618" y="267" width="3" height="8" fill="#000"/>
<rect x="619" y="268" width="1" height="6" fill="#FF0000"/>
<rect x="623" y="274" width="3" height="8" fill="#000"/>
<rect x="624" y="275" width="1" height="6" fill="#00FF00"/>
<rect x="630" y="245" width="1" height="8" fill="#000"/>
<rect x="629" y="253" width="3" height="15" fill="#000"/>
<rect x="630" y="254" width="1" height="13" fill="#00FF00"/>
<rect x="636" y="210" width="1" height="7" fill="#000"/>
<rect x="636" y="231" width="1" height="8" fill="#000"/>
<rect x="635" y="217" width="3" height="15" fill="#000"/>
<rect x="636" y="218" width="1" height="13" fill="#00FF00"/>
<rect x="641" y="196" width="3" height="43" fill="#000"/>
<rect x="642" y="197" width="1" height="41" fill="#00FF00"/>
<rect x="648" y="196" width="1" height="15" fill="#000"/>
<rect x="647" y="182" width="3" height="15" fill="#000"/>
<rect x="648" y="183" width="1" height="13" fill="#00FF00"/>
<rect x="654" y="175" width="1" height="7" fill="#000"/>
<rect x="653" y="182" width="3" height="15" fill="#000"/>
<rect x="654" y="183" width="1" height="13" fill="#FF0000"/>
<rect x="660" y="189" width="1" height="8" fill="#000"/>
<rect x="659" y="182" width="3" height="8" fill="#000"/>
<rect x="660" y="183" width="1" height="6" fill="#00FF00"/>
<rect x="665" y="182" width="3" height="15" fill="#000"/>
<rect x="666" y="183" width="1" height="13" fill="#FF0000"/>
<rect x="671" y="182" width="3" height="8" fill="#000"/>
<rect x="672" y="183" width="1" height="6" fill="#FF0000"/>
<rect x="677" y="182" width="3" height="1" fill="#000"/>
<rect x="683" y="189" width="3" height="8" fill="#000"/>
<rect x="684" y="190" width="1" height="6" fill="#FF0000"/>
<rect x="688" y="189" width="3" height="8" fill="#000"/>
<rect x="689" y="190" width="1" height="6" fill="#FF0000"/>
<rect x="694" y="182" width="3" height="8" fill="#000"/>
<rect x="695" y="183" width="1" height="6" fill="#00FF00"/>
<rect x="701" y="182" width="1" height="8" fill="#000"/>
<rect x="700" y="182" width="3" height="1" fill="#000"/>
<rect x="706" y="175" width="3" height="8" fill="#000"/>
<rect x="707" y="176" width="1" height="6" fill="#00FF00"/>
<rect x="712" y="168" width="3" height="8" fill="#000"/>
<rect x="713" y="169" width="1" height="6" fill="#00FF00"/>
<rect x="719" y="175" width="1" height="8" fill="#000"/>
<rect x="718" y="182" width="3" height="1" fill="#000"/>
<rect x="724" y="182" width="3" height="15" fill="#000"/>
<rect x="725" y="183" width="1" height="13" fill="#FF0000"/>
<rect x="731" y="175" width="1" height="7" fill="#000"/>
<rect x="731" y="189" width="1" height="8" fill="#000"/>
<rect x="730" y="182" width="3" height="8" fill="#000"/>
<rect x="731" y="183" width="1" height="6" fill="#00FF00"/>
<rect x="736" y="182" width="3" height="15" fill="#000"/>
<rect x="737" y="183" width="1" height="13" fill="#FF0000"/>
<rect x="743" y="182" width="1" height="8" fill="#000"/>
<rect x="742" y="154" width="3" height="29" fill="#000"/>
<rect x="743" y="155" width="1" height="27" fill="#00FF00"/>
<rect x="748" y="154" width="3" height="15" fill="#000"/>
<rect x="749" y="155" width="1" height="13" fill="#00FF00"/>
<rect x="754" y="154" width="1" height="15" fill="#000"/>
<rect x="753" y="168" width="3" height="1" fill="#000"/>
<rect x="759" y="146" width="3" height="23" fill="#000"/>
<rect x="760" y="147" width="1" height="21" fill="#FF0000"/>
<rect x="766" y="150" width="1" height="5" fill="#000"/>
<rect x="765" y="154" width="3" height="1" fill="#000"/>
<rect x="772" y="83" width="1" height="35" fill="#000"/>
<rect x="772" y="132" width="1" height="7" fill="#000"/>
<rect x="771" y="118" width="3" height="15" fill="#000"/>
<rect x="772" y="119" width="1" height="13" fill="#00FF00"/>
<rect x="778" y="125" width="1" height="8" fill="#000"/>
<rect x="777" y="125" width="3" height="1" fill="#000"/>
<rect x="784" y="146" width="1" height="16" fill="#000"/>
<rect x="783" y="139" width="3" height="8" fill="#000"/>
<rect x="784" y="140" width="1" height="6" fill="#FF0000"/>
<rect x="790" y="168" width="1" height="22" fill="#000"/>
<rect x="789" y="161" width="3" height="8" fill="#000"/>
<rect x="790" y="162" width="1" height="6" fill="#FF0000"/>
<rect x="796" y="168" width="1" height="8" fill="#000"/>
<rect x="795" y="161" width="3" height="8" fill="#000"/>
<rect x="796" y="162" width="1" height="6" fill="#00FF00"/>
<rect x="801" y="161" width="3" height="8" fill="#000"/>
<rect x="802" y="162" width="1" height="6" fill="#FF0000"/>
<rect x="808" y="161" width="1" height="8" fill="#000"/>
<rect x="807" y="154" width="3" height="8" fill="#000"/>
<rect x="808" y="155" width="1" height="6" fill="#00FF00"/>
<rect x="813" y="146" width="1" height="23" fill="#000"/>
<rect x="812" y="154" width="3" height="1" fill="#000"/>
<rect x="818" y="154" width="3" height="15" fill="#000"/>
<rect x="819" y="155" width="1" height="13" fill="#FF0000"/>
<rect x="825" y="162" width="1" height="7" fill="#000"/>
<rect x="824" y="168" width="3" height="1" fill="#000"/>
<rect x="831" y="168" width="1" height="8" fill="#000"/>
<rect x="830" y="161" width="3" height="8" fill="#000"/>
<rect x="831" y="162" width="1" height="6" fill="#00FF00"/>
<rect x="837" y="161" width="1" height="15" fill="#000"/>
<rect x="836" y="154" width="3" height="8" fill="#000"/>
<rect x="837" y="155" width="1" height="6" fill="#00FF00"/>
<rect x="842" y="168" width="3" height="8" fill="#000"/>
<rect x="843" y="169" width="1" height="6" fill="#00FF00"/>
<rect x="849" y="154" width="1" height="8" fill="#000"/>
<rect x="848" y="146" width="3" height="9" fill="#000"/>
<rect x="849" y="147" width="1" height="7" fill="#00FF00"/>
<rect x="854" y="118" width="3" height="29" fill="#000"/>
<rect x="855" y="119" width="1" height="27" fill="#00FF00"/>
<rect x="861" y="118" width="1" height="8" fill="#000"/>
<rect x="860" y="118" width="3" height="1" fill="#000"/>
<rect x="867" y="111" width="1" height="7" fill="#000"/>
<rect x="866" y="118" width="3" height="8" fill="#000"/>
<rect x="867" y="119" width="1" height="6" fill="#FF0000"/>
<rect x="873" y="111" width="1" height="8" fill="#000"/>
<rect x="872" y="104" width="3" height="8" fill="#000"/>
<rect x="873" y="105" width="1" height="6" fill="#00FF00"/>
<rect x="878" y="83" width="1" height="7" fill="#000"/>
<rect x="877" y="90" width="3" height="15" fill="#000"/>
<rect x="878" y="91" width="1" height="13" fill="#00FF00"/>
<rect x="884" y="104" width="1" height="15" fill="#000"/>
<rect x="883" y="90" width="3" height="15" fill="#000"/>
<rect x="884" y="91" width="1" height="13" fill="#FF0000"/>
<rect x="890" y="97" width="1" height="14" fill="#000"/>
<rect x="890" y="118" width="1" height="8" fill="#000"/>
<rect x="889" y="111" width="3" height="8" fill="#000"/>
<rect x="890" y="112" width="1" height="6" fill="#00FF00"/>
<rect x="896" y="105" width="1" height="7" fill="#000"/>
<rect x="895" y="111" width="3" height="1" fill="#000"/>
<rect x="902" y="125" width="1" height="8" fill="#000"/>
<rect x="901" y="125" width="3" height="1" fill="#000"/>
<rect x="908" y="132" width="1" height="15" fill="#000"/>
<rect x="907" y="132" width="3" height="1" fill="#000"/>
<rect x="914" y="132" width="1" height="14" fill="#000"/>
<rect x="913" y="146" width="3" height="9" fill="#000"/>
<rect x="914" y="147" width="1" height="7" fill="#FF0000"/>
<rect x="920" y="125" width="1" height="8" fill="#000"/>
<rect x="919" y="111" width="3" height="15" fill="#000"/>
<rect x="920" y="112" width="1" height="13" fill="#00FF00"/>
<rect x="926" y="104" width="1" height="7" fill="#000"/>
<rect x="926" y="118" width="1" height="8" fill="#000"/>
<rect x="925" y="111" width="3" height="8" fill="#000"/>
<rect x="926" y="112" width="1" height="6" fill="#00FF00"/>
<rect x="931" y="90" width="3" height="8" fill="#000"/>
<rect x="932" y="91" width="1" height="6" fill="#00FF00"/>
<rect x="937" y="83" width="3" height="29" fill="#000"/>
<rect x="938" y="84" width="1" height="27" fill="#00FF00"/>
<rect x="943" y="76" width="1" height="7" fill="#000"/>
<rect x="942" y="83" width="3" height="8" fill="#000"/>
<rect x="943" y="84" width="1" height="6" fill="#FF0000"/>
<rect x="949" y="90" width="1" height="8" fill="#000"/>
<rect x="948" y="97" width="3" height="1" fill="#000"/>
<rect x="954" y="97" width="3" height="8" fill="#000"/>
<rect x="955" y="98" width="1" height="6" fill="#FF0000"/>
<rect x="961" y="90" width="1" height="15" fill="#000"/>
<rect x="960" y="90" width="3" height="1" fill="#000"/>
<rect x="966" y="69" width="3" height="15" fill="#000"/>
<rect x="967" y="70" width="1" height="13" fill="#00FF00"/>
<polyline points="57.0,376.8 200.0,376.8 230.0,377.2 265.0,375.0 283.0,373.7 302.0,372.8 320.0,372.0 335.0,371.4 354.0,371.1 384.0,369.8 430.0,368.5 440.0,367.9 498.6,362.1 563.5,356.8 580.0,355.8 630.0,348.1 667.0,338.3 711.0,327.5 754.0,316.6 770.0,312.7 815.0,300.9 860.0,288.5 906.0,276.7 951.0,264.1 967.7,259.5" fill="none" stroke="#FFFF00" stroke-width="2" />
<polyline points="57.2,333.4 63.3,338.1 69.1,345.8 74.8,350.5 81.5,355.3 88.1,357.8 98.6,360.6 111.0,362.5 128.2,362.5 133.9,363.9 144.4,365.4 156.8,365.8 183.5,365.8 187.3,366.7 193.0,365.8 205.4,363.5 217.2,363.3 223.1,362.9 229.2,350.0 235.3,344.8 241.2,341.0 252.4,334.3 264.4,329.2 276.2,324.8 287.7,320.4 291.5,320.4 304.8,324.2 316.3,325.4 329.6,327.7 341.0,329.2 347.7,333.4 354.4,331.5 363.9,332.4 394.4,332.4 405.9,336.8 412.2,330.5 419.2,329.2 430.7,326.7 437.6,325.3 445.3,321.9 451.0,313.9 456.7,306.3 465.3,300.5 473.9,296.7 491.0,295.8 506.3,295.4 515.8,296.7 525.3,298.3 536.8,295.8 548.2,297.1 557.7,297.7 561.6,291.0 567.3,278.6 571.5,272.9 578.7,264.3 589.6,256.7 597.8,250.0 609.2,246.2 620.7,243.3 627.6,240.6 633.3,233.0 639.1,219.6 644.8,206.3 650.5,194.8 658.1,179.6 667.7,169.1 677.2,162.4 686.7,154.8 696.3,148.1 705.8,141.4 713.4,135.7 719.1,134.2 726.8,137.6 734.4,144.3 743.5,151.0 749.6,155.2 755.4,156.3 761.0,154.4 766.7,148.1 772.4,138.2 778.1,128.6 785.8,125.8 797.2,125.8 816.3,124.3 835.3,124.3 843.9,126.7 849.6,124.8 855.5,120.6 862.0,117.2 867.7,112.4 873.5,105.8 878.6,96.2 880.0,94.3 889.5,90.5 904.8,85.7 923.9,82.9 933.4,75.3 942.9,69.9 950.6,69.0 962.0,73.4 966.8,69.2" fill="none" stroke="#FF0000" stroke-width="1" />
<polyline points="57.2,393.4 63.3,394.8 74.8,391.5 81.5,390.2 93.9,389.2 104.3,388.7 111.0,389.6 116.7,390.6 128.2,391.5 139.6,391.5 153.0,392.1 164.4,394.8 172.0,396.3 183.5,397.6 193.0,398.8 205.4,397.6 217.2,397.2 223.1,397.2 229.2,407.1 235.3,408.7 241.2,407.7 247.6,408.1 259.1,406.2 270.5,403.5 287.7,396.3 297.2,387.7 306.7,378.2 316.3,373.4 322.0,370.6 329.6,365.2 341.0,362.4 347.7,361.6 358.2,363.9 384.9,364.5 394.4,366.2 400.0,366.1 406.6,364.3 415.1,368.0 430.1,369.0 445.2,369.9 454.6,375.6 467.8,374.6 475.3,370.8 490.4,363.3 505.5,358.6 513.0,352.0 522.4,345.4 535.6,343.5 546.9,337.9 559.1,331.3 565.7,342.6 573.3,348.2 580.8,350.1 594.0,351.1 601.8,346.4 614.9,338.3 630.1,331.4 638.8,333.3 649.7,337.9 660.6,334.0 669.3,324.2 679.1,313.3 686.8,311.5 695.5,307.4 704.2,299.1 712.9,291.5 721.6,278.4 730.3,262.1 736.9,246.8 743.4,226.1 749.9,213.1 754.3,209.2 760.8,208.3 767.4,210.5 770.0,212.8 779.0,217.3 797.1,211.6 808.4,203.7 822.0,200.8 831.0,200.3 844.6,191.8 855.9,186.3 860.4,188.4 871.7,189.0 883.0,192.4 902.2,192.4 907.9,189.0 923.7,183.4 935.3,179.2 946.8,168.7 954.4,161.1 962.0,148.1 967.7,144.9" fill="none" stroke="#FF0000" stroke-width="1" />
<polyline points="57.2,362.9 63.3,365.8 74.8,369.6 81.5,372.4 93.9,373.8 104.3,375.9 116.7,376.3 133.9,378.6 153.0,378.2 164.4,380.1 183.5,381.6 193.0,381.0 205.4,381.4 223.1,380.1 229.2,377.2 235.3,375.9 241.2,375.3 252.4,370.6 264.4,365.8 276.2,362.9 287.7,359.1 297.2,354.9 306.7,350.9 316.3,349.0 329.6,345.8 341.0,345.4 347.7,347.1 363.9,348.3 384.9,348.3 405.9,349.6 412.5,349.0 430.7,347.7 441.4,346.3 451.0,343.4 460.5,338.7 477.7,332.0 500.5,327.2 513.9,324.4 525.3,321.5 536.8,318.7 548.2,315.8 557.7,313.9 565.4,310.1 574.9,306.3 589.6,302.1 601.6,296.7 613.0,292.0 624.5,287.2 644.8,269.9 658.1,257.7 667.7,249.2 677.2,239.6 686.7,233.0 696.3,226.3 705.8,219.6 715.3,212.0 724.9,204.4 734.4,197.7 743.9,190.1 753.5,183.4 763.0,180.0 772.5,175.8 782.1,171.9 791.6,168.1 801.1,166.2 810.7,164.3 816.3,163.3 825.8,163.0 835.3,161.0 843.9,160.1 854.4,155.3 863.9,151.1 873.5,146.7 880.0,143.0 899.1,140.1 914.3,137.2 929.6,130.6 944.8,121.0 956.3,114.4 966.8,108.3" fill="none" stroke="#FF0000" stroke-width="1" stroke-dasharray="4 4"/>
<polyline points="57.2,367.7 63.3,366.7 69.1,365.8 74.8,365.8 81.5,367.7 98.6,367.3 105.3,389.6 111.0,389.0 116.7,391.5 128.2,395.3 139.6,391.5 153.0,388.1 158.3,393.8 164.4,403.0 170.1,411.5 183.5,403.9 194.9,398.8 205.4,397.6 217.2,393.4 229.2,394.0 235.3,359.5 241.2,366.3 247.6,363.9 259.1,362.0 264.4,360.5 270.5,361.6 282.3,354.4 288.2,357.2 294.3,358.2 301.0,361.6 316.3,352.4 329.6,350.9 335.3,350.2 341.0,323.5 347.7,329.2 354.4,331.5 363.9,335.3 376.5,339.1 384.9,334.9 394.4,334.3 405.9,335.7 410.6,335.3 412.5,337.2 418.3,353.0 430.7,354.4 441.4,352.0 447.5,351.1 453.5,356.8 459.6,330.1 465.3,332.0 471.9,333.0 483.4,331.0 500.5,328.2 512.0,325.3 519.6,324.0 524.4,322.5 530.5,297.1 536.8,296.3 544.4,298.6 553.9,302.4 559.6,303.0 565.6,329.1 571.5,288.7 577.4,291.0 583.5,293.9 589.6,295.8 595.5,301.1 596.3,301.3 604.0,298.5 612.7,296.9 620.3,298.0 630.1,295.4 637.1,296.9 638.8,287.1 642.1,265.4 654.1,241.4 661.7,241.8 673.7,238.1 684.6,232.7 708.5,222.9 719.4,205.4 730.3,206.5 736.9,209.2 743.4,209.2 748.8,202.2 757.3,200.5 766.8,202.4 772.5,200.9 773.4,199.9 775.3,187.7 778.1,179.2 783.9,176.3 790.5,181.1 796.4,188.1 802.9,184.9 812.4,178.6 820.1,179.2 825.8,177.3 831.5,174.0 835.3,172.5 843.9,172.1 846.8,140.1 849.6,119.5 855.5,119.5 858.2,143.9 861.4,176.3 867.7,172.5 873.5,170.6 879.2,153.4 884.9,143.3 890.6,145.8 896.7,149.2 902.6,145.8 908.5,146.4 914.5,146.7 917.3,117.2 920.4,96.2 926.8,95.3 932.6,95.3 936.4,126.7 938.3,143.9 940.0,147.7 946.8,142.0 956.3,136.3 962.0,134.0 966.8,133.0" fill="none" stroke="#008000" stroke-width="1" />
<rect x="55" y="83" width="951" height="1" fill="#FF0000"/>
<text x="70" y="81" fill="#FF0000" font-size="11" text-anchor="start" filter="url(#bin)" >0,6304</text>
<rect x="0" y="62" width="53" height="14" fill="#FFFFE1"/>
<rect x="1008" y="62" width="54" height="14" fill="#FFFFE1"/>
<text x="46.6" y="73" fill="#000" font-size="11" text-anchor="end" filter="url(#bin)" >0,65</text>
<rect x="49" y="68" width="3" height="1" fill="#000"/>
<text x="1015.6" y="73" fill="#000" font-size="11" text-anchor="start" filter="url(#bin)" >0,65</text>
<rect x="1009" y="68" width="3" height="1" fill="#000"/>
<rect x="54" y="504" width="953" height="1" fill="#FFFFFF"/>
<rect x="54" y="504" width="1" height="206" fill="#F0F0F0"/>
<rect x="1006" y="504" width="1" height="206" fill="#F0F0F0"/>
<rect x="54" y="663" width="953" height="2" fill="#F4F4F4"/>
<rect x="54" y="709" width="953" height="1" fill="#F0F0F0"/>
<rect x="51" y="662" width="2" height="1" fill="#000080"/>
<rect x="51" y="659" width="2" height="1" fill="#000080"/>
<rect x="51" y="656" width="2" height="1" fill="#000080"/>
<rect x="51" y="654" width="2" height="1" fill="#000080"/>
<rect x="49" y="651" width="4" height="1" fill="#000080"/>
<rect x="51" y="648" width="2" height="1" fill="#000080"/>
<rect x="51" y="646" width="2" height="1" fill="#000080"/>
<rect x="51" y="643" width="2" height="1" fill="#000080"/>
<rect x="51" y="641" width="2" height="1" fill="#000080"/>
<rect x="49" y="638" width="4" height="1" fill="#000080"/>
<rect x="51" y="635" width="2" height="1" fill="#000080"/>
<rect x="51" y="633" width="2" height="1" fill="#000080"/>
<rect x="51" y="630" width="2" height="1" fill="#000080"/>
<rect x="51" y="628" width="2" height="1" fill="#000080"/>
<rect x="49" y="625" width="4" height="1" fill="#000080"/>
<rect x="51" y="622" width="2" height="1" fill="#000080"/>
<rect x="51" y="620" width="2" height="1" fill="#000080"/>
<rect x="51" y="617" width="2" height="1" fill="#000080"/>
<rect x="51" y="614" width="2" height="1" fill="#000080"/>
<rect x="49" y="612" width="4" height="1" fill="#000080"/>
<rect x="51" y="609" width="2" height="1" fill="#000080"/>
<rect x="51" y="607" width="2" height="1" fill="#000080"/>
<rect x="51" y="604" width="2" height="1" fill="#000080"/>
<rect x="51" y="601" width="2" height="1" fill="#000080"/>
<rect x="49" y="599" width="4" height="1" fill="#000080"/>
<rect x="51" y="596" width="2" height="1" fill="#000080"/>
<rect x="51" y="593" width="2" height="1" fill="#000080"/>
<rect x="51" y="591" width="2" height="1" fill="#000080"/>
<rect x="51" y="588" width="2" height="1" fill="#000080"/>
<rect x="49" y="586" width="4" height="1" fill="#000080"/>
<rect x="51" y="583" width="2" height="1" fill="#000080"/>
<rect x="51" y="580" width="2" height="1" fill="#000080"/>
<rect x="51" y="578" width="2" height="1" fill="#000080"/>
<rect x="51" y="575" width="2" height="1" fill="#000080"/>
<rect x="49" y="572" width="4" height="1" fill="#000080"/>
<rect x="51" y="570" width="2" height="1" fill="#000080"/>
<rect x="51" y="567" width="2" height="1" fill="#000080"/>
<rect x="51" y="565" width="2" height="1" fill="#000080"/>
<rect x="51" y="562" width="2" height="1" fill="#000080"/>
<rect x="49" y="559" width="4" height="1" fill="#000080"/>
<rect x="51" y="557" width="2" height="1" fill="#000080"/>
<rect x="51" y="554" width="2" height="1" fill="#000080"/>
<rect x="51" y="552" width="2" height="1" fill="#000080"/>
<rect x="51" y="549" width="2" height="1" fill="#000080"/>
<rect x="49" y="546" width="4" height="1" fill="#000080"/>
<rect x="51" y="544" width="2" height="1" fill="#000080"/>
<rect x="51" y="541" width="2" height="1" fill="#000080"/>
<rect x="51" y="538" width="2" height="1" fill="#000080"/>
<rect x="51" y="536" width="2" height="1" fill="#000080"/>
<rect x="49" y="533" width="4" height="1" fill="#000080"/>
<rect x="51" y="531" width="2" height="1" fill="#000080"/>
<rect x="51" y="528" width="2" height="1" fill="#000080"/>
<rect x="51" y="525" width="2" height="1" fill="#000080"/>
<g clip-path="url(#cpSL)">
<text x="47" y="537.5" fill="#000080" font-size="11" text-anchor="end" filter="url(#bin)" >90</text>
<text x="47" y="563.7" fill="#000080" font-size="11" text-anchor="end" filter="url(#bin)" >70</text>
<text x="47" y="576.8" fill="#000080" font-size="11" text-anchor="end" filter="url(#bin)" >60</text>
<text x="47" y="589.9" fill="#000080" font-size="11" text-anchor="end" filter="url(#bin)" >50</text>
<text x="47" y="603.0" fill="#000080" font-size="11" text-anchor="end" filter="url(#bin)" >40</text>
<text x="47" y="616.1" fill="#000080" font-size="11" text-anchor="end" filter="url(#bin)" >30</text>
<text x="47" y="629.2" fill="#000080" font-size="11" text-anchor="end" filter="url(#bin)" >20</text>
<text x="47" y="642.3" fill="#000080" font-size="11" text-anchor="end" filter="url(#bin)" >10</text>
<text x="47" y="655.4" fill="#000080" font-size="11" text-anchor="end" filter="url(#bin)" >0</text>
<text x="47" y="668.5" fill="#000080" font-size="11" text-anchor="end" filter="url(#bin)" >-10</text>
</g>
<text x="50.5" y="517.7" fill="#000080" font-size="11" text-anchor="end" filter="url(#bin)" >SSTOC</text>
<text x="1010" y="517.7" fill="#000080" font-size="11" text-anchor="start" filter="url(#bin)" >SSTOC</text>
<rect x="1008" y="662" width="4" height="1" fill="#000080"/>
<rect x="1008" y="656" width="2" height="1" fill="#000080"/>
<rect x="1008" y="650" width="2" height="1" fill="#000080"/>
<rect x="1008" y="645" width="2" height="1" fill="#000080"/>
<rect x="1008" y="639" width="4" height="1" fill="#000080"/>
<rect x="1008" y="633" width="2" height="1" fill="#000080"/>
<rect x="1008" y="628" width="2" height="1" fill="#000080"/>
<rect x="1008" y="622" width="2" height="1" fill="#000080"/>
<rect x="1008" y="616" width="4" height="1" fill="#000080"/>
<rect x="1008" y="611" width="2" height="1" fill="#000080"/>
<rect x="1008" y="605" width="2" height="1" fill="#000080"/>
<rect x="1008" y="600" width="2" height="1" fill="#000080"/>
<rect x="1008" y="594" width="4" height="1" fill="#000080"/>
<rect x="1008" y="588" width="2" height="1" fill="#000080"/>
<rect x="1008" y="583" width="2" height="1" fill="#000080"/>
<rect x="1008" y="577" width="2" height="1" fill="#000080"/>
<rect x="1008" y="572" width="4" height="1" fill="#000080"/>
<rect x="1008" y="566" width="2" height="1" fill="#000080"/>
<rect x="1008" y="560" width="2" height="1" fill="#000080"/>
<rect x="1008" y="555" width="2" height="1" fill="#000080"/>
<rect x="1008" y="549" width="4" height="1" fill="#000080"/>
<rect x="1008" y="543" width="2" height="1" fill="#000080"/>
<rect x="1008" y="538" width="2" height="1" fill="#000080"/>
<rect x="1008" y="532" width="2" height="1" fill="#000080"/>
<rect x="1008" y="526" width="4" height="1" fill="#000080"/>
<g clip-path="url(#cpSL)">
<text x="1014" y="553.3" fill="#000080" font-size="11" text-anchor="start" filter="url(#bin)" >80</text>
<text x="1014" y="575.8" fill="#000080" font-size="11" text-anchor="start" filter="url(#bin)" >60</text>
<text x="1014" y="598.3" fill="#000080" font-size="11" text-anchor="start" filter="url(#bin)" >40</text>
<text x="1014" y="620.8" fill="#000080" font-size="11" text-anchor="start" filter="url(#bin)" >20</text>
<text x="1014" y="643.3" fill="#000080" font-size="11" text-anchor="start" filter="url(#bin)" >0</text>
<text x="1014" y="665.8" fill="#000080" font-size="11" text-anchor="start" filter="url(#bin)" >-20</text>
</g>
<g clip-path="url(#cpS)">
<polyline points="57.3,555.2 63.2,580.1 69.1,606.0 75.0,580.1 81.0,555.2 86.9,598.1 92.8,639.9 98.7,584.6 104.6,526.9 110.5,577.8 116.4,590.2 122.4,583.4 128.3,615.1 134.2,614.0 140.1,627.5 146.0,639.3 151.9,589.1 157.9,541.2 163.8,557.5 169.7,550.7 175.6,551.8 181.5,538.2 187.4,534.4 193.3,533.7 199.3,538.2 205.2,541.2 211.1,543.9 217.0,562.0 222.9,576.0 228.8,556.3 234.8,559.7 240.7,599.3 246.6,595.9 252.5,566.5 258.4,550.2 264.3,558.6 270.2,586.8 276.2,593.6 282.1,577.8 288.0,541.2 293.9,568.8 299.8,597.0 305.7,591.4 311.6,564.2 317.6,584.6 323.5,610.6 329.4,555.2 335.3,593.6 341.2,639.3 347.1,626.4 353.1,628.0 359.0,623.0 364.9,586.8 370.8,527.4 376.7,527.4 382.6,527.4 388.5,537.1 394.5,590.9 400.4,590.2 406.3,546.2 412.2,526.9 418.1,543.9 424.0,583.4 429.9,588.0 435.9,567.6 441.8,555.2 447.7,562.0 453.6,559.7 459.5,547.3 465.4,557.5 471.4,577.8 477.3,602.7 483.2,620.7 489.1,639.3 495.0,610.6 500.9,571.0 506.8,555.2 512.8,547.3 518.7,559.7 524.6,602.2 530.5,602.2 536.4,564.2 542.3,564.2 548.2,604.9 554.2,639.3 560.1,607.2 566.0,558.6 571.9,538.2 577.8,560.8 583.7,582.3 589.6,602.2 595.6,575.5 601.5,572.1 607.4,593.6 613.3,589.1 619.2,575.5 625.1,563.1 631.1,550.7 637.0,540.5 642.9,532.6 648.8,526.9 654.7,540.5 660.6,549.5 666.5,568.8 672.5,598.1 678.4,564.2 684.3,590.2 690.2,639.3 696.1,566.5 702.0,527.4 707.9,527.4 713.9,527.4 719.8,566.5 725.7,620.3 731.6,611.2 737.5,610.6 743.4,584.6 749.4,526.9 755.3,551.8 761.2,574.4 767.1,574.4 773.0,567.6 778.9,577.8 784.8,600.4 790.8,618.5 796.7,602.7 802.6,586.8 808.5,559.7 814.4,540.5 820.3,618.5 826.2,639.3 832.2,607.2 838.1,555.2 844.0,582.3 849.9,566.5 855.8,527.4 861.7,527.4 867.7,542.8 873.6,543.9 879.5,546.2 885.4,566.5 891.3,595.9 897.2,607.2 903.1,611.7 909.1,614.0 915.0,623.0 920.9,589.1 926.8,536.0 932.7,534.9 938.6,526.9 944.5,538.2 950.5,578.9 956.4,604.9 962.3,600.4 968.2,558.6" fill="none" stroke="#000080" stroke-width="1" />
<polyline points="57.5,583.0 69.2,583.0 74.4,591.4 86.8,574.4 98.6,601.5 110.6,564.2 116.7,567.6 122.3,582.3 128.2,593.6 134.1,602.7 140.4,618.5 146.7,623.0 151.9,607.2 158.0,580.1 164.1,556.3 169.8,551.4 176.6,552.5 181.5,546.2 187.4,540.5 193.3,534.9 199.2,535.3 205.0,538.9 211.1,542.8 217.0,550.7 222.9,560.8 228.8,564.2 234.6,564.2 240.7,571.0 246.6,583.4 252.5,590.2 258.4,572.1 264.2,563.1 270.3,564.2 276.2,576.7 282.1,584.6 287.9,571.0 293.8,563.1 299.9,569.9 305.8,586.8 311.6,584.6 317.5,580.1 323.4,586.8 329.3,583.4 335.4,583.4 341.2,595.9 347.1,618.5 353.0,627.5 358.9,628.6 364.7,612.8 370.6,580.1 376.7,546.2 382.6,528.1 388.5,537.1 394.4,557.5 400.2,575.5 406.1,575.5 412.2,555.2 418.1,539.4 424.0,555.2 429.8,572.1 435.7,577.8 441.8,569.9 447.7,562.0 453.6,559.7 459.4,556.3 465.3,555.2 471.2,559.7 477.3,578.9 483.2,600.4 489.0,619.6 494.9,623.0 500.8,607.2 506.7,578.9 512.8,558.6 518.6,557.5 524.5,571.0 530.3,588.0 536.4,588.0 542.3,576.7 548.2,577.8 554.1,600.4 559.9,616.2 565.8,600.4 571.9,568.8 577.8,552.9 583.7,560.8 589.5,581.2 595.4,586.8 601.3,583.4 607.4,582.3 613.3,584.6 619.2,584.6 625.0,575.5 630.9,563.1 636.8,551.8 642.9,541.6 648.8,533.7 654.6,534.9 660.5,543.9 666.4,557.5 672.3,572.1 678.4,576.7 684.2,582.3 690.1,597.0 696.0,601.5 701.9,577.8 707.7,540.5 713.8,528.1 719.7,540.5 725.6,571.0 731.5,599.3 737.3,614.0 743.4,600.4 749.3,571.0 755.1,551.8 761.0,551.8 766.9,566.5 773.0,572.1 778.9,575.5 784.7,586.8 790.6,600.4 796.5,606.0 802.4,603.8 808.5,584.6 814.4,564.2 820.2,565.4 826.1,592.5 832.0,616.2 837.9,600.4 844.0,582.3 849.8,568.8 855.7,558.6 861.6,543.9 867.5,532.6 873.3,537.1 879.4,543.9 885.3,552.9 891.2,568.8 897.1,588.0 902.9,601.5 908.8,609.4 914.9,616.2 920.8,609.4 926.7,582.3 932.5,552.9 938.4,532.6 944.5,534.9 950.4,549.5 956.3,573.3 962.1,594.7 968.0,588.0" fill="none" stroke="#000080" stroke-width="2" />
<polyline points="57.5,615.1 63.6,625.3 69.2,609.4 75.1,598.1 81.0,582.3 86.8,571.0 92.7,580.1 98.6,569.9 104.7,569.9 110.6,582.3 116.4,557.5 122.3,577.8 128.2,600.4 134.1,607.2 140.2,632.0 146.0,635.4 151.9,616.2 157.8,600.4 163.7,571.0 169.8,556.3 175.6,558.6 181.5,557.5 187.4,552.9 193.3,543.9 199.2,534.9 205.0,530.3 211.1,526.9 217.0,532.6 222.9,538.2 228.8,539.4 234.6,555.2 240.7,564.2 246.6,573.3 252.5,582.3 258.4,583.4 264.2,580.1 270.3,586.8 276.2,582.3 282.1,575.5 287.9,562.0 293.8,571.0 299.9,569.9 305.8,584.6 311.6,593.2 317.5,593.2 323.4,593.6 329.3,589.1 335.4,604.9 341.2,618.5 347.1,629.8 353.0,639.3 358.9,639.3 364.7,625.3 370.6,609.4 376.7,586.8 382.6,573.3 388.5,571.0 394.4,575.5 400.2,573.3 406.1,564.2 412.2,550.7 418.1,539.4 424.0,541.6 429.8,550.7 435.7,560.8 441.8,558.6 447.7,555.2 453.6,551.8 459.4,551.8 465.3,547.3 471.2,545.0 477.3,558.6 483.2,571.0 489.0,600.4 494.9,618.5 500.8,625.3 506.7,618.5 512.8,600.4 518.6,586.8 524.5,584.6 530.3,575.5 536.4,571.0 542.3,566.5 548.2,555.2 554.1,567.6 559.9,577.8 565.8,567.6 571.9,564.2 577.8,554.1 583.7,550.7 589.5,560.8 595.4,564.2 601.3,567.6 607.4,577.8 613.3,586.8 619.2,595.9 625.0,601.5 630.9,584.6 636.8,565.4 642.9,543.9 648.8,528.1 654.6,529.2 660.5,528.1 666.4,536.0 672.3,540.5 678.4,538.2 684.2,547.3 690.1,558.6 696.0,562.0 701.9,558.6 707.7,547.3 713.8,534.9 719.7,542.8 725.6,550.7 731.5,584.6 737.3,618.5 743.4,600.4 749.3,577.8 755.1,559.7 761.0,546.2 766.9,551.8 773.0,559.7 778.9,562.0 784.7,566.5 790.6,584.6 796.5,600.4 802.4,614.0 808.5,618.5 814.4,612.8 820.2,609.4 826.1,600.4 832.0,589.1 837.9,577.8 844.0,589.1 849.8,575.5 855.7,558.6 861.6,539.4 867.5,527.4 873.3,527.4 879.4,530.3 885.3,537.1 891.2,547.3 897.1,564.2 902.9,582.3 908.8,600.4 914.9,616.2 920.8,619.6 926.7,600.4 932.5,568.8 938.4,543.9 944.5,537.1 950.4,534.9 956.3,543.9 962.1,554.1 968.0,548.4" fill="none" stroke="#FFC080" stroke-width="1" />
<polyline points="57.5,617.3 63.6,619.6 69.2,616.2 75.1,610.6 81.0,600.4 86.8,591.4 92.7,584.6 98.6,577.8 104.7,573.3 110.6,575.5 116.4,571.0 122.3,574.4 128.2,583.4 134.1,589.1 140.2,604.9 146.0,620.7 151.9,623.0 157.8,622.5 163.7,609.4 169.8,589.1 175.6,573.3 181.5,562.0 187.4,557.5 193.3,556.3 199.2,550.7 205.0,543.9 211.1,537.1 217.0,532.6 222.9,531.7 228.8,533.7 234.6,539.4 240.7,546.2 246.6,557.5 252.5,569.9 258.4,576.7 264.2,581.2 270.3,584.6 276.2,583.4 282.1,581.2 287.9,576.7 293.8,572.1 299.9,568.8 305.8,569.9 311.6,580.1 317.5,584.6 323.4,588.0 329.3,592.5 335.4,595.4 341.2,599.3 347.1,609.4 353.0,618.5 358.9,627.5 364.7,631.6 370.6,630.9 376.7,618.5 382.6,600.4 388.5,586.8 394.4,577.8 400.2,575.5 406.1,572.1 412.2,568.8 418.1,558.6 424.0,549.5 429.8,547.3 435.7,548.4 441.8,554.1 447.7,558.6 453.6,558.6 459.4,556.3 465.3,552.9 471.2,550.7 477.3,551.4 483.2,559.7 489.0,571.0 494.9,588.0 500.8,607.2 506.7,616.2 512.8,615.1 518.6,608.3 524.5,599.3 530.3,589.1 536.4,581.2 542.3,574.4 548.2,567.6 554.1,565.4 559.9,566.5 565.8,568.8 571.9,569.9 577.8,566.5 583.7,560.8 589.5,557.5 595.4,557.0 601.3,559.7 607.4,566.5 613.3,573.3 619.2,582.3 625.0,590.9 630.9,593.2 636.8,588.0 642.9,575.5 648.8,558.6 654.6,543.9 660.5,534.9 666.4,530.3 672.3,532.6 678.4,534.9 684.2,539.4 690.1,546.2 696.0,551.8 701.9,557.5 707.7,558.6 713.8,552.9 719.7,546.2 725.6,546.2 731.5,555.2 737.3,575.5 743.4,591.4 749.3,593.2 755.1,586.8 761.0,568.8 766.9,556.3 773.0,554.1 778.9,554.1 784.7,558.6 790.6,568.8 796.5,580.1 802.4,594.7 808.5,607.2 814.4,612.8 820.2,614.0 826.1,610.6 832.0,603.8 837.9,597.0 844.0,588.0 849.8,580.1 855.7,573.3 861.6,564.2 867.5,550.7 873.3,539.4 879.4,532.6 885.3,530.3 891.2,534.9 897.1,543.9 902.9,557.5 908.8,571.0 914.9,586.8 920.8,602.7 926.7,609.4 932.5,604.9 938.4,586.8 944.5,559.7 950.4,546.2 956.3,539.8 962.1,542.8 968.0,545.7" fill="none" stroke="#FF8000" stroke-width="2" />
<polyline points="57.5,611.7 63.6,616.2 75.1,620.7 86.8,622.3 106.5,622.3 140.4,620.3 151.7,618.0 163.0,614.0 174.3,608.3 185.6,602.7 196.9,595.9 208.2,588.0 219.5,580.1 230.8,571.0 242.1,563.1 253.4,555.2 264.7,551.8 276.0,549.5 280.0,547.3 291.3,545.7 304.9,547.3 320.7,549.5 336.5,554.1 352.3,559.7 370.4,566.5 388.5,575.5 404.3,581.2 420.1,579.6 433.7,577.8 447.2,573.3 460.8,568.8 474.4,564.2 487.9,560.8 501.5,558.6 510.0,558.6 523.6,559.3 543.9,559.7 566.5,558.6 589.1,558.6 611.7,557.5 634.3,554.1 656.9,548.4 679.5,548.0 702.1,543.4 724.7,538.2 740.0,539.4 758.1,538.2 776.2,538.9 796.5,545.0 814.6,555.2 830.4,566.5 848.5,575.5 866.6,581.2 875.6,582.3 884.6,579.6 902.7,578.9 920.8,575.5 934.4,567.6 947.9,560.8 961.5,556.3 968.0,554.1" fill="none" stroke="#FFFF00" stroke-width="1" />
<polyline points="57.5,598.8 63.6,606.0 69.2,610.6 75.1,615.1 81.0,618.5 86.8,620.7 98.6,622.3 117.8,622.3 140.4,621.9 151.7,621.4 163.0,619.6 174.3,615.8 185.6,610.6 196.9,604.9 208.2,598.8 219.5,591.4 230.8,582.3 242.1,573.3 253.4,564.2 264.7,556.3 276.0,551.8 280.0,550.7 291.3,547.3 304.9,546.2 320.7,546.6 336.5,550.7 352.3,555.2 370.4,563.1 388.5,571.0 404.3,576.7 420.1,580.1 433.7,581.2 447.2,578.9 460.8,575.5 474.4,571.0 487.9,566.5 501.5,563.1 510.0,563.1 523.6,560.2 543.9,559.3 566.5,559.3 589.1,557.5 611.7,556.3 634.3,553.6 656.9,550.7 679.5,548.4 702.1,545.0 724.7,540.5 740.0,537.6 758.1,537.1 776.2,537.6 796.5,541.6 814.6,548.4 830.4,557.5 848.5,568.8 866.6,577.8 884.6,580.5 902.7,580.1 920.8,577.8 934.4,574.4 947.9,567.6 961.5,560.8 968.0,558.1" fill="none" stroke="#FFFF00" stroke-width="2" />
<rect x="55" y="546" width="950" height="1" fill="#FFC080"/>
<rect x="55" y="624" width="950" height="1" fill="#FFC080"/>
<rect x="55" y="549" width="950" height="1" fill="#FFFF00"/>
<rect x="55" y="617" width="950" height="1" fill="#FFFF00"/>
</g>
<rect x="0" y="540" width="53" height="13" fill="#FFFFE1"/>
<text x="46.6" y="550.5" fill="#000" font-size="11" text-anchor="end" filter="url(#bin)" >79,8295</text>
<rect x="49" y="546" width="3" height="1" fill="#000"/>
<rect x="1008" y="580" width="54" height="13" fill="#FFFFE1"/>
<text x="1015.6" y="590.5" fill="#000" font-size="11" text-anchor="start" filter="url(#bin)" >46,6667</text>
<rect x="1009" y="586" width="3" height="1" fill="#000"/>
<g clip-path="url(#cpO)">
<text x="47" y="677" fill="#000080" font-size="11" text-anchor="end" filter="url(#bin)" >OBV</text>
<text x="1014" y="677" fill="#000080" font-size="11" text-anchor="start" filter="url(#bin)" >OBV</text>
</g>
<text x="47" y="704.5" fill="#000080" font-size="11" text-anchor="end" filter="url(#bin)" >0 M</text>
<text x="1014" y="704.5" fill="#000080" font-size="11" text-anchor="start" filter="url(#bin)" >0 M</text>
<rect x="51" y="667" width="2" height="1" fill="#000080"/>
<rect x="1008" y="667" width="2" height="1" fill="#000080"/>
<rect x="51" y="685" width="2" height="1" fill="#000080"/>
<rect x="1008" y="685" width="2" height="1" fill="#000080"/>
<rect x="51" y="690" width="2" height="1" fill="#000080"/>
<rect x="1008" y="690" width="2" height="1" fill="#000080"/>
<rect x="51" y="695" width="2" height="1" fill="#000080"/>
<rect x="1008" y="695" width="2" height="1" fill="#000080"/>
<rect x="51" y="705" width="2" height="1" fill="#000080"/>
<rect x="1008" y="705" width="2" height="1" fill="#000080"/>
<rect x="49" y="700" width="4" height="1" fill="#000080"/>
<rect x="1008" y="700" width="4" height="1" fill="#000080"/>
<polyline points="56.8,699.3 90.7,699.3 95.2,700.7 106.5,699.8 111.0,700.7 154.0,700.7 158.5,701.6 176.6,701.6 181.1,700.7 212.7,700.7 224.0,699.3 229.4,696.2 235.3,698.4 246.6,692.5 253.4,695.3 257.9,694.4 276.0,694.4 288.6,690.3 294.1,691.6 318.9,691.6 329.3,689.8 334.7,690.7 407.1,690.7 411.6,689.8 425.1,689.4 429.7,688.5 441.0,688.5 447.7,682.6 452.3,681.7 479.4,681.7 483.9,683.1 502.0,683.1 506.5,682.1 520.0,681.9 553.2,681.4 564.9,676.3 571.0,680.4 576.2,680.4 583.8,683.5 629.7,683.5 645.1,679.4 657.8,680.4 688.5,681.4 714.0,679.4 734.4,680.4 744.6,678.4 765.0,677.9 772.7,670.7 780.3,672.8 793.1,678.4 805.9,676.8 826.3,677.9 846.7,675.3 855.9,671.7 861.0,671.7 867.1,674.8 877.3,670.7 890.1,676.3 913.1,679.4 923.3,676.8 936.0,676.3 943.7,679.4 956.4,680.9 966.7,678.4" fill="none" stroke="#FFFFFF" stroke-width="1" />
<rect x="0" y="671" width="53" height="14" fill="#FFFFE1"/>
<text x="46.6" y="682.5" fill="#000" font-size="11" text-anchor="end" filter="url(#bin)" >2216736</text>
<rect x="49" y="678" width="3" height="1" fill="#000"/>
<rect x="1008" y="671" width="54" height="14" fill="#FFFFE1"/>
<text x="1015.6" y="682.5" fill="#000" font-size="11" text-anchor="start" filter="url(#bin)" >2216736</text>
<rect x="1009" y="678" width="3" height="1" fill="#000"/>
<rect x="57" y="711" width="1" height="2" fill="#000080"/>
<rect x="63" y="711" width="1" height="2" fill="#000080"/>
<rect x="69" y="711" width="1" height="2" fill="#000080"/>
<rect x="75" y="711" width="1" height="5" fill="#000080"/>
<text x="75" y="729" fill="#000080" font-size="11" text-anchor="start" filter="url(#bin)" >Jul</text>
<rect x="81" y="711" width="1" height="2" fill="#000080"/>
<rect x="87" y="711" width="1" height="2" fill="#000080"/>
<rect x="93" y="711" width="1" height="2" fill="#000080"/>
<rect x="99" y="711" width="1" height="2" fill="#000080"/>
<rect x="105" y="711" width="1" height="2" fill="#000080"/>
<rect x="111" y="711" width="1" height="2" fill="#000080"/>
<rect x="116" y="711" width="1" height="2" fill="#000080"/>
<rect x="122" y="711" width="1" height="5" fill="#000080"/>
<text x="122" y="729" fill="#000080" font-size="11" text-anchor="start" filter="url(#bin)" >Aug</text>
<rect x="128" y="711" width="1" height="2" fill="#000080"/>
<rect x="134" y="711" width="1" height="2" fill="#000080"/>
<rect x="140" y="711" width="1" height="2" fill="#000080"/>
<rect x="146" y="711" width="1" height="2" fill="#000080"/>
<rect x="152" y="711" width="1" height="5" fill="#000080"/>
<text x="152" y="729" fill="#000080" font-size="11" text-anchor="start" filter="url(#bin)" >14.</text>
<rect x="158" y="711" width="1" height="2" fill="#000080"/>
<rect x="164" y="711" width="1" height="2" fill="#000080"/>
<rect x="170" y="711" width="1" height="2" fill="#000080"/>
<rect x="176" y="711" width="1" height="5" fill="#000080"/>
<text x="176" y="729" fill="#000080" font-size="11" text-anchor="start" filter="url(#bin)" >21.</text>
<rect x="181" y="711" width="1" height="2" fill="#000080"/>
<rect x="187" y="711" width="1" height="2" fill="#000080"/>
<rect x="193" y="711" width="1" height="2" fill="#000080"/>
<rect x="199" y="711" width="1" height="2" fill="#000080"/>
<rect x="205" y="711" width="1" height="2" fill="#000080"/>
<rect x="211" y="711" width="1" height="2" fill="#000080"/>
<rect x="217" y="711" width="1" height="2" fill="#000080"/>
<rect x="223" y="711" width="1" height="5" fill="#000080"/>
<text x="223" y="729" fill="#000080" font-size="11" text-anchor="start" filter="url(#bin)" >Sep</text>
<rect x="229" y="711" width="1" height="2" fill="#000080"/>
<rect x="235" y="711" width="1" height="2" fill="#000080"/>
<rect x="241" y="711" width="1" height="2" fill="#000080"/>
<rect x="246" y="711" width="1" height="2" fill="#000080"/>
<rect x="252" y="711" width="1" height="5" fill="#000080"/>
<text x="252" y="729" fill="#000080" font-size="11" text-anchor="start" filter="url(#bin)" >11.</text>
<rect x="258" y="711" width="1" height="2" fill="#000080"/>
<rect x="264" y="711" width="1" height="2" fill="#000080"/>
<rect x="270" y="711" width="1" height="2" fill="#000080"/>
<rect x="276" y="711" width="1" height="2" fill="#000080"/>
<rect x="282" y="711" width="1" height="5" fill="#000080"/>
<text x="282" y="729" fill="#000080" font-size="11" text-anchor="start" filter="url(#bin)" >18.</text>
<rect x="288" y="711" width="1" height="2" fill="#000080"/>
<rect x="294" y="711" width="1" height="2" fill="#000080"/>
<rect x="300" y="711" width="1" height="2" fill="#000080"/>
<rect x="305" y="711" width="1" height="2" fill="#000080"/>
<rect x="311" y="711" width="1" height="2" fill="#000080"/>
<rect x="317" y="711" width="1" height="2" fill="#000080"/>
<rect x="323" y="711" width="1" height="2" fill="#000080"/>
<rect x="329" y="711" width="1" height="5" fill="#000080"/>
<text x="329" y="729" fill="#000080" font-size="11" text-anchor="start" filter="url(#bin)" >Okt</text>
<rect x="335" y="711" width="1" height="2" fill="#000080"/>
<rect x="341" y="711" width="1" height="2" fill="#000080"/>
<rect x="347" y="711" width="1" height="2" fill="#000080"/>
<rect x="353" y="711" width="1" height="2" fill="#000080"/>
<rect x="359" y="711" width="1" height="2" fill="#000080"/>
<rect x="365" y="711" width="1" height="5" fill="#000080"/>
<text x="365" y="729" fill="#000080" font-size="11" text-anchor="start" filter="url(#bin)" >16.</text>
<rect x="370" y="711" width="1" height="2" fill="#000080"/>
<rect x="376" y="711" width="1" height="2" fill="#000080"/>
<rect x="382" y="711" width="1" height="2" fill="#000080"/>
<rect x="388" y="711" width="1" height="5" fill="#000080"/>
<text x="388" y="729" fill="#000080" font-size="11" text-anchor="start" filter="url(#bin)" >23.</text>
<rect x="394" y="711" width="1" height="2" fill="#000080"/>
<rect x="400" y="711" width="1" height="2" fill="#000080"/>
<rect x="406" y="711" width="1" height="2" fill="#000080"/>
<rect x="412" y="711" width="1" height="2" fill="#000080"/>
<rect x="418" y="711" width="1" height="5" fill="#000080"/>
<text x="418" y="729" fill="#000080" font-size="11" text-anchor="start" filter="url(#bin)" >Nov</text>
<rect x="424" y="711" width="1" height="2" fill="#000080"/>
<rect x="430" y="711" width="1" height="2" fill="#000080"/>
<rect x="435" y="711" width="1" height="2" fill="#000080"/>
<rect x="441" y="711" width="1" height="2" fill="#000080"/>
<rect x="447" y="711" width="1" height="2" fill="#000080"/>
<rect x="453" y="711" width="1" height="2" fill="#000080"/>
<rect x="459" y="711" width="1" height="2" fill="#000080"/>
<rect x="465" y="711" width="1" height="5" fill="#000080"/>
<text x="465" y="729" fill="#000080" font-size="11" text-anchor="start" filter="url(#bin)" >13.</text>
<rect x="471" y="711" width="1" height="2" fill="#000080"/>
<rect x="477" y="711" width="1" height="2" fill="#000080"/>
<rect x="483" y="711" width="1" height="2" fill="#000080"/>
<rect x="489" y="711" width="1" height="2" fill="#000080"/>
<rect x="495" y="711" width="1" height="5" fill="#000080"/>
<text x="495" y="729" fill="#000080" font-size="11" text-anchor="start" filter="url(#bin)" >21.</text>
<rect x="500" y="711" width="1" height="2" fill="#000080"/>
<rect x="506" y="711" width="1" height="2" fill="#000080"/>
<rect x="512" y="711" width="1" height="2" fill="#000080"/>
<rect x="518" y="711" width="1" height="2" fill="#000080"/>
<rect x="524" y="711" width="1" height="2" fill="#000080"/>
<rect x="530" y="711" width="1" height="2" fill="#000080"/>
<rect x="536" y="711" width="1" height="5" fill="#000080"/>
<text x="536" y="729" fill="#000080" font-size="11" text-anchor="start" filter="url(#bin)" >Dez</text>
<rect x="542" y="711" width="1" height="2" fill="#000080"/>
<rect x="548" y="711" width="1" height="2" fill="#000080"/>
<rect x="554" y="711" width="1" height="2" fill="#000080"/>
<rect x="559" y="711" width="1" height="2" fill="#000080"/>
<rect x="565" y="711" width="1" height="2" fill="#000080"/>
<rect x="571" y="711" width="1" height="5" fill="#000080"/>
<text x="571" y="729" fill="#000080" font-size="11" text-anchor="start" filter="url(#bin)" >11.</text>
<rect x="577" y="711" width="1" height="2" fill="#000080"/>
<rect x="583" y="711" width="1" height="2" fill="#000080"/>
<rect x="589" y="711" width="1" height="2" fill="#000080"/>
<rect x="595" y="711" width="1" height="2" fill="#000080"/>
<rect x="601" y="711" width="1" height="5" fill="#000080"/>
<text x="601" y="729" fill="#000080" font-size="11" text-anchor="start" filter="url(#bin)" >18.</text>
<rect x="607" y="711" width="1" height="2" fill="#000080"/>
<rect x="613" y="711" width="1" height="2" fill="#000080"/>
<rect x="619" y="711" width="1" height="2" fill="#000080"/>
<rect x="624" y="711" width="1" height="2" fill="#000080"/>
<rect x="630" y="711" width="1" height="2" fill="#000080"/>
<rect x="636" y="711" width="1" height="2" fill="#000080"/>
<rect x="642" y="711" width="1" height="2" fill="#000080"/>
<rect x="648" y="711" width="1" height="5" fill="#000080"/>
<text x="648" y="729" fill="#000080" font-size="11" text-anchor="start" filter="url(#bin)" >2007</text>
<rect x="654" y="711" width="1" height="2" fill="#000080"/>
<rect x="660" y="711" width="1" height="2" fill="#000080"/>
<rect x="666" y="711" width="1" height="2" fill="#000080"/>
<rect x="672" y="711" width="1" height="2" fill="#000080"/>
<rect x="678" y="711" width="1" height="2" fill="#000080"/>
<rect x="684" y="711" width="1" height="2" fill="#000080"/>
<rect x="689" y="711" width="1" height="2" fill="#000080"/>
<rect x="695" y="711" width="1" height="2" fill="#000080"/>
<rect x="701" y="711" width="1" height="5" fill="#000080"/>
<text x="701" y="729" fill="#000080" font-size="11" text-anchor="start" filter="url(#bin)" >15.</text>
<rect x="707" y="711" width="1" height="2" fill="#000080"/>
<rect x="713" y="711" width="1" height="2" fill="#000080"/>
<rect x="719" y="711" width="1" height="2" fill="#000080"/>
<rect x="725" y="711" width="1" height="2" fill="#000080"/>
<rect x="731" y="711" width="1" height="5" fill="#000080"/>
<text x="731" y="729" fill="#000080" font-size="11" text-anchor="start" filter="url(#bin)" >22.</text>
<rect x="737" y="711" width="1" height="2" fill="#000080"/>
<rect x="743" y="711" width="1" height="2" fill="#000080"/>
<rect x="749" y="711" width="1" height="2" fill="#000080"/>
<rect x="754" y="711" width="1" height="2" fill="#000080"/>
<rect x="760" y="711" width="1" height="2" fill="#000080"/>
<rect x="766" y="711" width="1" height="2" fill="#000080"/>
<rect x="772" y="711" width="1" height="2" fill="#000080"/>
<rect x="778" y="711" width="1" height="5" fill="#000080"/>
<text x="778" y="729" fill="#000080" font-size="11" text-anchor="start" filter="url(#bin)" >Feb</text>
<rect x="784" y="711" width="1" height="2" fill="#000080"/>
<rect x="790" y="711" width="1" height="2" fill="#000080"/>
<rect x="796" y="711" width="1" height="2" fill="#000080"/>
<rect x="802" y="711" width="1" height="2" fill="#000080"/>
<rect x="808" y="711" width="1" height="2" fill="#000080"/>
<rect x="813" y="711" width="1" height="2" fill="#000080"/>
<rect x="819" y="711" width="1" height="5" fill="#000080"/>
<text x="819" y="729" fill="#000080" font-size="11" text-anchor="start" filter="url(#bin)" >12.</text>
<rect x="825" y="711" width="1" height="2" fill="#000080"/>
<rect x="831" y="711" width="1" height="2" fill="#000080"/>
<rect x="837" y="711" width="1" height="2" fill="#000080"/>
<rect x="843" y="711" width="1" height="2" fill="#000080"/>
<rect x="849" y="711" width="1" height="5" fill="#000080"/>
<text x="849" y="729" fill="#000080" font-size="11" text-anchor="start" filter="url(#bin)" >19.</text>
<rect x="855" y="711" width="1" height="2" fill="#000080"/>
<rect x="861" y="711" width="1" height="2" fill="#000080"/>
<rect x="867" y="711" width="1" height="2" fill="#000080"/>
<rect x="873" y="711" width="1" height="2" fill="#000080"/>
<rect x="878" y="711" width="1" height="2" fill="#000080"/>
<rect x="884" y="711" width="1" height="2" fill="#000080"/>
<rect x="890" y="711" width="1" height="2" fill="#000080"/>
<rect x="896" y="711" width="1" height="5" fill="#000080"/>
<text x="896" y="729" fill="#000080" font-size="11" text-anchor="start" filter="url(#bin)" >Mrz</text>
<rect x="902" y="711" width="1" height="2" fill="#000080"/>
<rect x="908" y="711" width="1" height="2" fill="#000080"/>
<rect x="914" y="711" width="1" height="2" fill="#000080"/>
<rect x="920" y="711" width="1" height="2" fill="#000080"/>
<rect x="926" y="711" width="1" height="2" fill="#000080"/>
<rect x="932" y="711" width="1" height="2" fill="#000080"/>
<rect x="938" y="711" width="1" height="5" fill="#000080"/>
<text x="938" y="729" fill="#000080" font-size="11" text-anchor="start" filter="url(#bin)" >12.</text>
<rect x="943" y="711" width="1" height="2" fill="#000080"/>
<rect x="949" y="711" width="1" height="2" fill="#000080"/>
<rect x="955" y="711" width="1" height="2" fill="#000080"/>
<rect x="961" y="711" width="1" height="2" fill="#000080"/>
<rect x="967" y="711" width="1" height="5" fill="#000080"/>
<text x="977" y="729" fill="#000080" font-size="11" text-anchor="start" filter="url(#bin)" >19.</text>
</svg>
</body></html>
